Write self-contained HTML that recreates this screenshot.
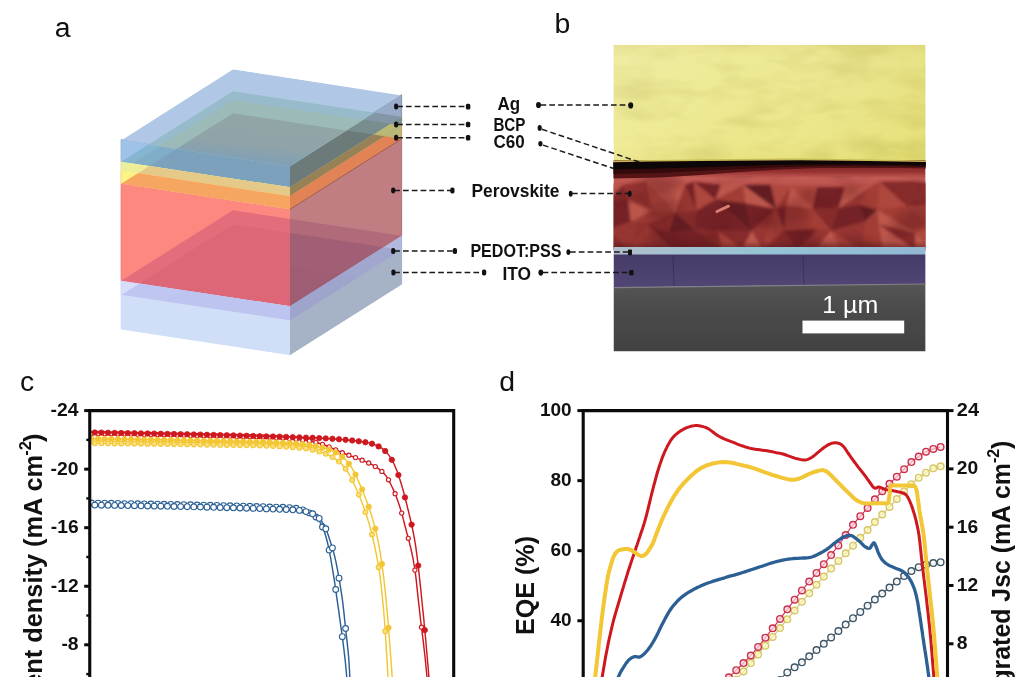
<!DOCTYPE html>
<html lang="en"><head><meta charset="utf-8"><title>Figure</title>
<style>
html,body{margin:0;padding:0;background:#fff}
body{width:1024px;height:677px;overflow:hidden;position:relative}
svg{display:block;position:absolute;left:0;top:0}
text{font-family:"Liberation Sans",Arial,Helvetica,sans-serif;fill:#111}
.b{font-weight:bold}
</style></head><body>
<svg width="1024" height="677" viewBox="0 0 1024 677">
<rect width="1024" height="677" fill="#fff"/>
<defs>
<clipPath id="cTop"><polygon points="121.2,140.4 290.0,166.2 401.6,95.5 233.0,69.3"/></clipPath>
<clipPath id="cF0"><polygon points="121.2,139.7 290.0,165.3 290.0,187.9 121.2,162.3"/></clipPath>
<clipPath id="cR0"><polygon points="290.0,165.3 401.6,94.8 401.6,117.4 290.0,187.9"/></clipPath>
<clipPath id="cF1"><polygon points="121.2,161.7 290.0,187.3 290.0,196.7 121.2,171.1"/></clipPath>
<clipPath id="cR1"><polygon points="290.0,187.3 401.6,116.8 401.6,126.2 290.0,196.7"/></clipPath>
<clipPath id="cF2"><polygon points="121.2,170.5 290.0,196.1 290.0,209.9 121.2,184.3"/></clipPath>
<clipPath id="cR2"><polygon points="290.0,196.1 401.6,125.6 401.6,139.4 290.0,209.9"/></clipPath>
<clipPath id="cF3"><polygon points="121.2,183.7 290.0,209.3 290.0,306.9 121.2,281.3"/></clipPath>
<clipPath id="cR3"><polygon points="290.0,209.3 401.6,138.8 401.6,236.4 290.0,306.9"/></clipPath>
<clipPath id="cF4"><polygon points="121.2,280.7 290.0,306.3 290.0,321.1 121.2,295.5"/></clipPath>
<clipPath id="cR4"><polygon points="290.0,306.3 401.6,235.8 401.6,250.6 290.0,321.1"/></clipPath>
<clipPath id="cF5"><polygon points="121.2,294.9 290.0,320.5 290.0,354.6 121.2,329.0"/></clipPath>
<clipPath id="cR5"><polygon points="290.0,320.5 401.6,250.0 401.6,284.1 290.0,354.6"/></clipPath>
<linearGradient id="gTopIn" gradientUnits="userSpaceOnUse" x1="236" y1="113" x2="230" y2="173"><stop offset="0" stop-color="rgb(147,166,166)"/><stop offset="0.5" stop-color="rgb(143,163,168)"/><stop offset="0.78" stop-color="rgb(128,160,182)"/><stop offset="1" stop-color="rgb(124,160,188)"/></linearGradient>
</defs>
<g id="panel-a-stack">
<polygon points="121.2,139.7 290.0,165.3 290.0,187.3 121.2,161.7" fill="rgb(123,161,189)" stroke="rgb(123,161,189)" stroke-width="1" stroke-linejoin="round"/>
<polygon points="290.0,165.3 401.6,94.8 401.6,116.8 290.0,187.3" fill="rgb(108,123,122)" stroke="rgb(108,123,122)" stroke-width="1" stroke-linejoin="round"/>
<polygon points="121.2,161.7 290.0,187.3 290.0,196.1 121.2,170.5" fill="rgb(229,201,136)" stroke="rgb(229,201,136)" stroke-width="1" stroke-linejoin="round"/>
<polygon points="290.0,187.3 401.6,116.8 401.6,125.6 290.0,196.1" fill="rgb(150,130,86)" stroke="rgb(150,130,86)" stroke-width="1" stroke-linejoin="round"/>
<polygon points="121.2,170.5 290.0,196.1 290.0,209.3 121.2,183.7" fill="rgb(240,158,98)" stroke="rgb(240,158,98)" stroke-width="1" stroke-linejoin="round"/>
<polygon points="290.0,196.1 401.6,125.6 401.6,138.8 290.0,209.3" fill="rgb(220,126,88)" stroke="rgb(220,126,88)" stroke-width="1" stroke-linejoin="round"/>
<polygon points="121.2,183.7 290.0,209.3 290.0,306.3 121.2,280.7" fill="rgb(221,103,119)" stroke="rgb(221,103,119)" stroke-width="1" stroke-linejoin="round"/>
<polygon points="290.0,209.3 401.6,138.8 401.6,235.8 290.0,306.3" fill="rgb(158,93,114)" stroke="rgb(158,93,114)" stroke-width="1" stroke-linejoin="round"/>
<polygon points="121.2,280.7 290.0,306.3 290.0,320.5 121.2,294.9" fill="rgb(190,196,240)" stroke="rgb(190,196,240)" stroke-width="1" stroke-linejoin="round"/>
<polygon points="290.0,306.3 401.6,235.8 401.6,250.0 290.0,320.5" fill="rgb(158,164,203)" stroke="rgb(158,164,203)" stroke-width="1" stroke-linejoin="round"/>
<polygon points="121.2,294.9 290.0,320.5 290.0,354.6 121.2,329.0" fill="rgb(208,222,248)" stroke="rgb(208,222,248)" stroke-width="1" stroke-linejoin="round"/>
<polygon points="290.0,320.5 401.6,250.0 401.6,284.1 290.0,354.6" fill="rgb(166,178,198)" stroke="rgb(166,178,198)" stroke-width="1" stroke-linejoin="round"/>
<g clip-path="url(#cF0)">
<rect x="100" y="60" width="320" height="300" fill="rgb(158,194,232)"/>
<polygon points="121.2,161.7 290.0,187.3 401.6,116.8 233.0,91.3" fill="rgb(133,181,207)"/>
<polygon points="121.2,170.5 290.0,196.1 401.6,125.6 233.0,100.1" fill="rgb(129,173,201)"/>
<polygon points="121.2,183.7 290.0,209.3 401.6,138.8 233.0,113.3" fill="rgb(123,161,189)"/>
</g>
<g clip-path="url(#cF1)">
<rect x="100" y="60" width="320" height="300" fill="rgb(232,240,162)"/>
<polygon points="121.2,170.5 290.0,196.1 401.6,125.6 233.0,100.1" fill="rgb(238,238,150)"/>
<polygon points="121.2,183.7 290.0,209.3 401.6,138.8 233.0,113.3" fill="rgb(229,201,136)"/>
</g>
<g clip-path="url(#cF2)">
<rect x="100" y="60" width="320" height="300" fill="rgb(250,245,132)"/>
<polygon points="121.2,183.7 290.0,209.3 401.6,138.8 233.0,113.3" fill="rgb(246,166,96)"/>
<polygon points="121.2,280.7 290.0,306.3 401.6,235.8 233.0,210.3" fill="rgb(240,158,98)"/>
</g>
<g clip-path="url(#cF3)">
<rect x="100" y="60" width="320" height="300" fill="rgb(253,136,128)"/>
<polygon points="121.2,280.7 290.0,306.3 401.6,235.8 233.0,210.3" fill="rgb(227,109,123)"/>
<polygon points="121.2,294.9 290.0,320.5 401.6,250.0 233.0,224.5" fill="rgb(221,103,119)"/>
<polygon points="121.2,329.0 290.0,354.6 401.6,284.1 233.0,258.6" fill="rgb(221,103,119)"/>
</g>
<g clip-path="url(#cF4)">
<rect x="100" y="60" width="320" height="300" fill="rgb(216,222,250)"/>
<polygon points="121.2,294.9 290.0,320.5 401.6,250.0 233.0,224.5" fill="rgb(192,198,242)"/>
<polygon points="121.2,329.0 290.0,354.6 401.6,284.1 233.0,258.6" fill="rgb(190,196,240)"/>
</g>
<g clip-path="url(#cF5)">
<rect x="100" y="60" width="320" height="300" fill="rgb(208,222,248)"/>
<polygon points="121.2,329.0 290.0,354.6 401.6,284.1 233.0,258.6" fill="rgb(208,222,248)"/>
</g>
<g clip-path="url(#cR0)">
<rect x="100" y="60" width="320" height="300" fill="rgb(152,172,202)"/>
<polygon points="121.2,161.7 290.0,187.3 401.6,116.8 233.0,91.3" fill="rgb(130,150,165)"/>
<polygon points="121.2,170.5 290.0,196.1 401.6,125.6 233.0,100.1" fill="rgb(120,141,142)"/>
<polygon points="121.2,183.7 290.0,209.3 401.6,138.8 233.0,113.3" fill="rgb(108,123,122)"/>
</g>
<g clip-path="url(#cR1)">
<rect x="100" y="60" width="320" height="300" fill="rgb(124,144,152)"/>
<polygon points="121.2,170.5 290.0,196.1 401.6,125.6 233.0,100.1" fill="rgb(186,185,118)"/>
<polygon points="121.2,183.7 290.0,209.3 401.6,138.8 233.0,113.3" fill="rgb(150,130,86)"/>
</g>
<g clip-path="url(#cR2)">
<rect x="100" y="60" width="320" height="300" fill="rgb(186,185,118)"/>
<polygon points="121.2,183.7 290.0,209.3 401.6,138.8 233.0,113.3" fill="rgb(226,131,86)"/>
<polygon points="121.2,280.7 290.0,306.3 401.6,235.8 233.0,210.3" fill="rgb(220,126,88)"/>
</g>
<g clip-path="url(#cR3)">
<rect x="100" y="60" width="320" height="300" fill="rgb(192,126,130)"/>
<polygon points="121.2,280.7 290.0,306.3 401.6,235.8 233.0,210.3" fill="rgb(176,106,122)"/>
<polygon points="121.2,294.9 290.0,320.5 401.6,250.0 233.0,224.5" fill="rgb(160,95,116)"/>
<polygon points="121.2,329.0 290.0,354.6 401.6,284.1 233.0,258.6" fill="rgb(158,93,114)"/>
</g>
<g clip-path="url(#cR4)">
<rect x="100" y="60" width="320" height="300" fill="rgb(178,184,222)"/>
<polygon points="121.2,294.9 290.0,320.5 401.6,250.0 233.0,224.5" fill="rgb(160,166,205)"/>
<polygon points="121.2,329.0 290.0,354.6 401.6,284.1 233.0,258.6" fill="rgb(158,164,203)"/>
</g>
<g clip-path="url(#cR5)">
<rect x="100" y="60" width="320" height="300" fill="rgb(166,178,198)"/>
<polygon points="121.2,329.0 290.0,354.6 401.6,284.1 233.0,258.6" fill="rgb(166,178,198)"/>
</g>
<line x1="290.0" y1="209.3" x2="401.6" y2="138.8" stroke="rgb(150,80,70)" stroke-width="0.8"/>
<g clip-path="url(#cTop)">
<polygon points="121.2,139.7 290.0,165.3 401.6,94.8 233.0,69.3" fill="rgb(176,199,229)"/>
<polygon points="121.2,161.7 290.0,187.3 401.6,116.8 233.0,91.3" fill="rgb(151,187,203)"/>
<polygon points="121.2,170.5 290.0,196.1 401.6,125.6 233.0,100.1" fill="rgb(155,186,184)"/>
<polygon points="121.2,183.7 290.0,209.3 401.6,138.8 233.0,113.3" fill="url(#gTopIn)"/>
</g>
</g>
<defs>
<clipPath id="cSem"><rect x="613.5" y="44.8" width="312.1" height="306.6"/></clipPath>
<filter id="fAg" x="0" y="0" width="1" height="1" color-interpolation-filters="sRGB">
<feTurbulence type="fractalNoise" baseFrequency="0.018 0.05" numOctaves="3" seed="11" result="n"/>
<feColorMatrix in="n" type="matrix" values="0 0 0 0 0.62  0 0 0 0 0.58  0 0 0 0 0.18  2.2 0 0 0 -0.95"/>
</filter>
<filter id="fPvkD" x="0" y="0" width="1" height="1" color-interpolation-filters="sRGB">
<feTurbulence type="fractalNoise" baseFrequency="0.022 0.034" numOctaves="2" seed="5" result="n"/>
<feColorMatrix in="n" type="matrix" values="0 0 0 0 0.36  0 0 0 0 0.08  0 0 0 0 0.10  3.6 0 0 0 -1.62"/>
<feGaussianBlur stdDeviation="1.0"/>
</filter>
<filter id="fPvkL" x="0" y="0" width="1" height="1" color-interpolation-filters="sRGB">
<feTurbulence type="fractalNoise" baseFrequency="0.024 0.04" numOctaves="2" seed="23" result="n"/>
<feColorMatrix in="n" type="matrix" values="0 0 0 0 0.80  0 0 0 0 0.38  0 0 0 0 0.35  0 3.2 0 0 -1.62"/>
<feGaussianBlur stdDeviation="1.0"/>
</filter>
<filter id="fBlur" x="-0.05" y="-0.2" width="1.1" height="1.4"><feGaussianBlur stdDeviation="1.6"/></filter>
<linearGradient id="gAg" x1="0" y1="0" x2="0" y2="1"><stop offset="0" stop-color="rgb(230,224,136)"/><stop offset="0.1" stop-color="rgb(236,232,146)"/><stop offset="0.8" stop-color="rgb(234,229,132)"/><stop offset="1" stop-color="rgb(226,219,112)"/></linearGradient>
<linearGradient id="gAgH" x1="0" y1="0" x2="1" y2="0"><stop offset="0" stop-color="rgb(250,248,200)" stop-opacity="0.28"/><stop offset="0.45" stop-color="rgb(250,248,200)" stop-opacity="0.08"/><stop offset="1" stop-color="rgb(214,204,84)" stop-opacity="0.22"/></linearGradient>
<linearGradient id="gPvk" x1="0" y1="0" x2="0" y2="1"><stop offset="0" stop-color="rgb(120,36,36)"/><stop offset="0.13" stop-color="rgb(150,50,48)"/><stop offset="0.2" stop-color="rgb(196,92,86)"/><stop offset="0.29" stop-color="rgb(186,80,74)"/><stop offset="0.4" stop-color="rgb(160,58,54)"/><stop offset="0.85" stop-color="rgb(152,54,50)"/><stop offset="1" stop-color="rgb(120,40,40)"/></linearGradient>
<linearGradient id="gPvkB" x1="0" y1="0" x2="0" y2="1"><stop offset="0" stop-color="rgb(90,26,28)" stop-opacity="0"/><stop offset="1" stop-color="rgb(90,26,28)" stop-opacity="0.6"/></linearGradient>
<linearGradient id="gPed" x1="0" y1="0" x2="1" y2="0"><stop offset="0" stop-color="rgb(176,190,204)"/><stop offset="0.45" stop-color="rgb(150,196,212)"/><stop offset="1" stop-color="rgb(146,184,212)"/></linearGradient>
<linearGradient id="gGlass" x1="0" y1="0" x2="0" y2="1"><stop offset="0" stop-color="rgb(86,86,86)"/><stop offset="0.3" stop-color="rgb(76,76,76)"/><stop offset="1" stop-color="rgb(66,66,66)"/></linearGradient>
<linearGradient id="gIto" x1="0" y1="0" x2="0" y2="1"><stop offset="0" stop-color="rgb(70,58,104)"/><stop offset="1" stop-color="rgb(82,70,116)"/></linearGradient>
</defs>
<g id="panel-b-sem" clip-path="url(#cSem)">
<rect x="613.5" y="44.8" width="312.1" height="125" fill="url(#gAg)"/>
<rect x="613.5" y="44.8" width="312.1" height="125" filter="url(#fAg)" opacity="0.24"/>
<rect x="613.5" y="44.8" width="312.1" height="125" fill="url(#gAgH)"/>
<rect x="613.5" y="160" width="312.1" height="90" fill="url(#gPvk)"/>
<g filter="url(#fBlur)"><polygon points="607.5,183.3 623.0,184.8 607.5,201.1" fill="rgb(188,86,76)"/><polygon points="623.0,184.8 628.2,199.8 607.5,201.1" fill="rgb(134,44,42)"/><polygon points="607.5,201.1 628.2,199.8 630.8,221.5" fill="rgb(116,36,38)"/><polygon points="607.5,201.1 630.8,221.5 607.5,230.1" fill="rgb(116,36,38)"/><polygon points="607.5,230.1 630.8,221.5 629.5,250.0" fill="rgb(150,52,48)"/><polygon points="607.5,230.1 629.5,250.0 607.5,250.0" fill="rgb(134,44,42)"/><polygon points="623.0,184.8 646.1,181.6 652.4,210.6" fill="rgb(150,52,48)"/><polygon points="623.0,184.8 652.4,210.6 628.2,199.8" fill="rgb(150,52,48)"/><polygon points="628.2,199.8 652.4,210.6 630.8,221.5" fill="rgb(188,86,76)"/><polygon points="652.4,210.6 647.0,224.1 630.8,221.5" fill="rgb(162,60,54)"/><polygon points="630.8,221.5 647.0,224.1 629.5,250.0" fill="rgb(150,52,48)"/><polygon points="647.0,224.1 656.1,250.0 629.5,250.0" fill="rgb(162,60,54)"/><polygon points="646.1,181.6 685.0,185.0 675.1,212.7" fill="rgb(188,86,76)"/><polygon points="646.1,181.6 675.1,212.7 652.4,210.6" fill="rgb(174,70,62)"/><polygon points="652.4,210.6 675.1,212.7 647.0,224.1" fill="rgb(162,60,54)"/><polygon points="675.1,212.7 668.8,233.0 647.0,224.1" fill="rgb(134,44,42)"/><polygon points="647.0,224.1 668.8,233.0 673.2,250.0" fill="rgb(116,36,38)"/><polygon points="647.0,224.1 673.2,250.0 656.1,250.0" fill="rgb(150,52,48)"/><polygon points="685.0,185.0 693.7,181.8 696.7,210.4" fill="rgb(116,36,38)"/><polygon points="685.0,185.0 696.7,210.4 675.1,212.7" fill="rgb(150,52,48)"/><polygon points="675.1,212.7 696.7,210.4 694.4,229.1" fill="rgb(134,44,42)"/><polygon points="675.1,212.7 694.4,229.1 668.8,233.0" fill="rgb(98,30,34)"/><polygon points="668.8,233.0 694.4,229.1 702.6,250.0" fill="rgb(116,36,38)"/><polygon points="668.8,233.0 702.6,250.0 673.2,250.0" fill="rgb(116,36,38)"/><polygon points="693.7,181.8 721.0,184.8 715.4,199.8" fill="rgb(116,36,38)"/><polygon points="693.7,181.8 715.4,199.8 696.7,210.4" fill="rgb(174,70,62)"/><polygon points="696.7,210.4 715.4,199.8 694.4,229.1" fill="rgb(116,36,38)"/><polygon points="715.4,199.8 718.0,230.5 694.4,229.1" fill="rgb(116,36,38)"/><polygon points="694.4,229.1 718.0,230.5 721.9,250.0" fill="rgb(134,44,42)"/><polygon points="694.4,229.1 721.9,250.0 702.6,250.0" fill="rgb(116,36,38)"/><polygon points="721.0,184.8 743.1,185.1 715.4,199.8" fill="rgb(188,86,76)"/><polygon points="743.1,185.1 745.6,203.2 715.4,199.8" fill="rgb(162,60,54)"/><polygon points="715.4,199.8 745.6,203.2 751.7,230.8" fill="rgb(98,30,34)"/><polygon points="715.4,199.8 751.7,230.8 718.0,230.5" fill="rgb(116,36,38)"/><polygon points="718.0,230.5 751.7,230.8 741.8,250.0" fill="rgb(134,44,42)"/><polygon points="718.0,230.5 741.8,250.0 721.9,250.0" fill="rgb(174,70,62)"/><polygon points="743.1,185.1 770.9,184.7 776.3,209.2" fill="rgb(98,30,34)"/><polygon points="743.1,185.1 776.3,209.2 745.6,203.2" fill="rgb(188,86,76)"/><polygon points="745.6,203.2 776.3,209.2 751.7,230.8" fill="rgb(116,36,38)"/><polygon points="776.3,209.2 765.7,234.7 751.7,230.8" fill="rgb(150,52,48)"/><polygon points="751.7,230.8 765.7,234.7 762.7,250.0" fill="rgb(150,52,48)"/><polygon points="751.7,230.8 762.7,250.0 741.8,250.0" fill="rgb(188,86,76)"/><polygon points="770.9,184.7 791.2,186.3 776.3,209.2" fill="rgb(174,70,62)"/><polygon points="791.2,186.3 786.4,205.8 776.3,209.2" fill="rgb(150,52,48)"/><polygon points="776.3,209.2 786.4,205.8 784.4,230.4" fill="rgb(116,36,38)"/><polygon points="776.3,209.2 784.4,230.4 765.7,234.7" fill="rgb(162,60,54)"/><polygon points="765.7,234.7 784.4,230.4 762.7,250.0" fill="rgb(162,60,54)"/><polygon points="784.4,230.4 797.5,250.0 762.7,250.0" fill="rgb(134,44,42)"/><polygon points="791.2,186.3 817.2,187.1 812.5,208.7" fill="rgb(174,70,62)"/><polygon points="791.2,186.3 812.5,208.7 786.4,205.8" fill="rgb(188,86,76)"/><polygon points="786.4,205.8 812.5,208.7 784.4,230.4" fill="rgb(162,60,54)"/><polygon points="812.5,208.7 817.5,229.1 784.4,230.4" fill="rgb(162,60,54)"/><polygon points="784.4,230.4 817.5,229.1 797.5,250.0" fill="rgb(116,36,38)"/><polygon points="817.5,229.1 815.1,250.0 797.5,250.0" fill="rgb(150,52,48)"/><polygon points="817.2,187.1 845.1,187.6 838.5,208.3" fill="rgb(116,36,38)"/><polygon points="817.2,187.1 838.5,208.3 812.5,208.7" fill="rgb(116,36,38)"/><polygon points="812.5,208.7 838.5,208.3 831.1,230.8" fill="rgb(134,44,42)"/><polygon points="812.5,208.7 831.1,230.8 817.5,229.1" fill="rgb(162,60,54)"/><polygon points="817.5,229.1 831.1,230.8 815.1,250.0" fill="rgb(150,52,48)"/><polygon points="831.1,230.8 841.6,250.0 815.1,250.0" fill="rgb(188,86,76)"/><polygon points="845.1,187.6 871.0,186.8 838.5,208.3" fill="rgb(188,86,76)"/><polygon points="871.0,186.8 858.3,204.4 838.5,208.3" fill="rgb(150,52,48)"/><polygon points="838.5,208.3 858.3,204.4 865.2,221.3" fill="rgb(116,36,38)"/><polygon points="838.5,208.3 865.2,221.3 831.1,230.8" fill="rgb(116,36,38)"/><polygon points="831.1,230.8 865.2,221.3 861.5,250.0" fill="rgb(150,52,48)"/><polygon points="831.1,230.8 861.5,250.0 841.6,250.0" fill="rgb(174,70,62)"/><polygon points="871.0,186.8 879.3,181.8 858.3,204.4" fill="rgb(162,60,54)"/><polygon points="879.3,181.8 877.4,209.8 858.3,204.4" fill="rgb(162,60,54)"/><polygon points="858.3,204.4 877.4,209.8 865.2,221.3" fill="rgb(98,30,34)"/><polygon points="877.4,209.8 878.6,224.5 865.2,221.3" fill="rgb(162,60,54)"/><polygon points="865.2,221.3 878.6,224.5 861.5,250.0" fill="rgb(162,60,54)"/><polygon points="878.6,224.5 883.3,250.0 861.5,250.0" fill="rgb(162,60,54)"/><polygon points="879.3,181.8 915.1,181.6 907.5,206.7" fill="rgb(134,44,42)"/><polygon points="879.3,181.8 907.5,206.7 877.4,209.8" fill="rgb(174,70,62)"/><polygon points="877.4,209.8 907.5,206.7 915.4,232.5" fill="rgb(162,60,54)"/><polygon points="877.4,209.8 915.4,232.5 878.6,224.5" fill="rgb(188,86,76)"/><polygon points="878.6,224.5 915.4,232.5 915.0,250.0" fill="rgb(134,44,42)"/><polygon points="878.6,224.5 915.0,250.0 883.3,250.0" fill="rgb(188,86,76)"/><polygon points="915.1,181.6 931.6,182.9 907.5,206.7" fill="rgb(134,44,42)"/><polygon points="931.6,182.9 931.6,204.8 907.5,206.7" fill="rgb(134,44,42)"/><polygon points="907.5,206.7 931.6,204.8 931.6,226.0" fill="rgb(174,70,62)"/><polygon points="907.5,206.7 931.6,226.0 915.4,232.5" fill="rgb(162,60,54)"/><polygon points="915.4,232.5 931.6,226.0 931.6,250.0" fill="rgb(174,70,62)"/><polygon points="915.4,232.5 931.6,250.0 915.0,250.0" fill="rgb(188,86,76)"/></g>
<rect x="613.5" y="176" width="312.1" height="72" filter="url(#fPvkD)" opacity="0.35"/>
<rect x="613.5" y="241" width="312.1" height="7" fill="url(#gPvkB)"/>
<line x1="717" y1="211.5" x2="728.5" y2="206.2" stroke="rgb(218,124,112)" stroke-width="3" stroke-linecap="round"/>
<polygon points="613.0,162.2 650.0,161.6 700.0,161.0 760.0,160.4 800.0,160.2 850.0,160.8 900.0,161.6 926.0,162.0 926.0,168.5 900.0,168.0 860.0,168.0 820.0,168.0 780.0,169.5 740.0,172.0 700.0,175.0 660.0,177.5 613.0,178.5" fill="rgb(84,20,22)"/>
<polygon points="613.0,162.2 650.0,161.6 700.0,161.0 760.0,160.4 800.0,160.2 850.0,160.8 900.0,161.6 926.0,162.0 926.0,167.1 900.0,166.5 860.0,166.3 820.0,166.2 780.0,167.2 740.0,169.0 700.0,171.1 660.0,173.1 613.0,174.1" fill="rgb(52,10,12)"/>
<polygon points="613.0,162.2 650.0,161.6 700.0,161.0 760.0,160.4 800.0,160.2 850.0,160.8 900.0,161.6 926.0,162.0 926.0,165.6 900.0,165.0 860.0,164.6 820.0,164.4 780.0,164.8 740.0,166.0 700.0,167.2 660.0,168.6 613.0,169.6" fill="rgb(12,6,6)"/>
<polyline points="613.0,161.4 650.0,160.8 700.0,160.2 760.0,159.6 800.0,159.4 850.0,160.0 900.0,160.8 926.0,161.2" fill="none" stroke="rgb(196,186,84)" stroke-width="1.6"/>
<rect x="613.5" y="247.0" width="312.1" height="8" fill="url(#gPed)"/>
<polygon points="613.5,254.6 925.6,254.6 925.6,284.0 613.5,287.6" fill="url(#gIto)"/>
<line x1="673" y1="255" x2="674" y2="286" stroke="rgb(52,40,88)" stroke-width="0.7"/>
<line x1="803" y1="255" x2="804" y2="286" stroke="rgb(52,40,88)" stroke-width="0.7"/>
<polygon points="613.5,287.4 925.6,283.8 925.6,351.4 613.5,351.4" fill="url(#gGlass)"/>
<line x1="613.5" y1="287.6" x2="925.6" y2="284.0" stroke="rgb(128,128,136)" stroke-width="1.1"/>
<rect x="802.5" y="320.6" width="101.7" height="12.8" fill="#fff"/>
<text x="822.2" y="312.9" font-size="23.4" textLength="56" lengthAdjust="spacingAndGlyphs" style="fill:#fff">1 µm</text>
</g>
<g id="labels" class="b" font-size="17.6" text-anchor="start">
<text x="497.6" y="110.2" textLength="22.6" lengthAdjust="spacingAndGlyphs">Ag</text>
<text x="493.4" y="130.6" textLength="32.0" lengthAdjust="spacingAndGlyphs">BCP</text>
<text x="493.4" y="147.8" textLength="31.2" lengthAdjust="spacingAndGlyphs">C60</text>
<text x="471.4" y="197.2" textLength="88.0" lengthAdjust="spacingAndGlyphs">Perovskite</text>
<text x="470.4" y="256.7" textLength="91.0" lengthAdjust="spacingAndGlyphs">PEDOT:PSS</text>
<text x="502.4" y="280.0" textLength="28.6" lengthAdjust="spacingAndGlyphs">ITO</text>
</g>
<g id="leaders" stroke="#1a1a1a" stroke-width="1.5" stroke-dasharray="5.7 3.1" fill="none">
<line x1="397.1" y1="106.6" x2="468.0" y2="106.6"/>
<line x1="397.1" y1="124.5" x2="468.0" y2="124.5"/>
<line x1="397.1" y1="137.8" x2="468.0" y2="137.8"/>
<line x1="394.2" y1="190.4" x2="452.0" y2="190.4"/>
<line x1="394.2" y1="251.0" x2="455.0" y2="251.0"/>
<line x1="394.2" y1="272.5" x2="484.0" y2="272.5"/>
<line x1="540.5" y1="105.0" x2="629.0" y2="105.0"/>
<line x1="542.0" y1="129.3" x2="640.0" y2="162.3"/>
<line x1="543.0" y1="145.1" x2="614.5" y2="168.8"/>
<line x1="572.0" y1="193.6" x2="629.0" y2="193.6"/>
<line x1="570.0" y1="252.1" x2="629.5" y2="252.1"/>
<line x1="542.6" y1="272.6" x2="630.5" y2="272.6"/>
</g>
<g id="dots" fill="#111">
<rect x="394.1" y="103.6" width="4" height="6.0" rx="1.8"/>
<rect x="394.1" y="121.5" width="4" height="6.0" rx="1.8"/>
<rect x="394.1" y="134.8" width="4" height="6.0" rx="1.8"/>
<rect x="391.2" y="187.4" width="4" height="6.0" rx="1.8"/>
<rect x="391.2" y="248.0" width="4" height="6.0" rx="1.8"/>
<rect x="391.4" y="269.5" width="4" height="6.0" rx="1.8"/>
<rect x="465.9" y="103.8" width="4.4" height="5.6" rx="1.5"/>
<rect x="465.9" y="121.7" width="4.4" height="5.6" rx="1.5"/>
<rect x="465.9" y="135.0" width="4.4" height="5.6" rx="1.5"/>
<rect x="450.3" y="187.4" width="4.2" height="6.0" rx="1.7"/>
<rect x="452.8" y="248.0" width="4.2" height="6.0" rx="1.7"/>
<rect x="482.0" y="269.5" width="4.2" height="6.0" rx="1.7"/>
<ellipse cx="538.5" cy="105.0" rx="2.5" ry="3.1"/>
<ellipse cx="539.7" cy="127.9" rx="2.1" ry="2.9"/>
<ellipse cx="540.4" cy="143.8" rx="2.1" ry="2.7"/>
<ellipse cx="570.7" cy="193.7" rx="1.9" ry="3.0"/>
<ellipse cx="568.4" cy="252.1" rx="2.0" ry="2.9"/>
<ellipse cx="540.8" cy="272.6" rx="2.4" ry="3.1"/>
</g>
<g fill="#111">
<ellipse cx="630.7" cy="105.4" rx="2.5" ry="3.1"/>
<ellipse cx="629.7" cy="193.7" rx="2.0" ry="3.0"/>
<rect x="628.0" y="249.4" width="4.0" height="5.8" rx="0.8"/>
<rect x="629.2" y="269.9" width="4.4" height="5.4" rx="0.8"/>
</g>
<defs><clipPath id="cC"><rect x="89.8" y="410.6" width="363.9" height="300"/></clipPath></defs>
<g id="panel-c">
<g clip-path="url(#cC)">
<path d="M89.7 503.0 L90.8 503.0 L94.0 503.1 L98.8 503.1 L104.9 503.2 L112.0 503.4 L119.8 503.5 L127.8 503.6 L135.7 503.7 L143.2 503.9 L150.0 504.0 L156.8 504.1 L163.9 504.3 L171.0 504.4 L178.2 504.6 L185.4 504.7 L192.6 504.9 L199.7 505.0 L206.7 505.2 L213.5 505.3 L220.0 505.5 L225.4 505.6 L230.8 505.8 L236.1 505.9 L241.3 506.0 L246.4 506.2 L251.4 506.3 L256.3 506.5 L261.1 506.6 L265.6 506.8 L270.0 507.0 L273.2 507.1 L276.3 507.2 L279.4 507.3 L282.4 507.3 L285.3 507.4 L288.1 507.5 L290.8 507.7 L293.3 507.9 L295.8 508.2 L298.0 508.6 L299.4 508.9 L300.7 509.3 L302.0 509.7 L303.1 510.1 L304.3 510.5 L305.4 511.0 L306.4 511.5 L307.5 512.0 L308.5 512.5 L309.5 513.0 L310.3 513.4 L311.2 513.9 L312.0 514.3 L312.8 514.8 L313.5 515.2 L314.3 515.7 L315.0 516.2 L315.7 516.8 L316.4 517.4 L317.0 518.0 L317.7 518.7 L318.3 519.5 L318.9 520.4 L319.5 521.2 L320.0 522.1 L320.5 523.1 L321.1 524.0 L321.5 525.0 L322.0 526.0 L322.5 527.0 L323.0 528.2 L323.5 529.3 L324.0 530.5 L324.4 531.7 L324.8 533.0 L325.2 534.3 L325.6 535.6 L326.0 537.0 L326.4 538.5 L326.8 540.0 L327.4 542.3 L328.0 544.8 L328.5 547.4 L329.1 550.2 L329.7 553.0 L330.2 555.9 L330.8 558.9 L331.3 562.0 L331.8 565.1 L332.4 568.3 L333.1 572.6 L333.8 577.1 L334.6 581.9 L335.3 586.8 L336.0 591.8 L336.7 596.8 L337.4 601.7 L338.1 606.6 L338.8 611.3 L339.4 615.8 L339.9 619.5 L340.4 623.1 L340.9 626.6 L341.4 630.1 L341.9 633.5 L342.3 636.9 L342.8 640.2 L343.2 643.5 L343.6 646.8 L344.0 650.0 L344.3 652.9 L344.7 655.8 L345.0 658.6 L345.3 661.5 L345.6 664.3 L345.8 667.1 L346.1 669.7 L346.3 672.3 L346.6 674.7 L346.8 677.0 L347.0 678.6 L347.1 680.3 L347.3 682.1 L347.4 683.8 L347.6 685.4 L347.7 686.9 L347.8 688.2 L347.9 689.1 L348.0 689.8 L348.0 690.0" fill="none" stroke="rgb(44,96,148)" stroke-width="1.45" stroke-linejoin="round"/>
<g fill="#fff" stroke="rgb(44,96,148)" stroke-width="1.1"><circle cx="91.5" cy="503.0" r="2.9"/><circle cx="98.1" cy="503.1" r="2.9"/><circle cx="104.7" cy="503.2" r="2.9"/><circle cx="111.3" cy="503.3" r="2.9"/><circle cx="117.9" cy="503.4" r="2.9"/><circle cx="124.5" cy="503.6" r="2.9"/><circle cx="131.1" cy="503.7" r="2.9"/><circle cx="137.7" cy="503.8" r="2.9"/><circle cx="144.3" cy="503.9" r="2.9"/><circle cx="150.9" cy="504.0" r="2.9"/><circle cx="157.5" cy="504.1" r="2.9"/><circle cx="164.1" cy="504.3" r="2.9"/><circle cx="170.7" cy="504.4" r="2.9"/><circle cx="177.3" cy="504.5" r="2.9"/><circle cx="183.9" cy="504.7" r="2.9"/><circle cx="190.5" cy="504.8" r="2.9"/><circle cx="197.1" cy="505.0" r="2.9"/><circle cx="203.7" cy="505.1" r="2.9"/><circle cx="210.3" cy="505.3" r="2.9"/><circle cx="216.9" cy="505.4" r="2.9"/><circle cx="223.5" cy="505.6" r="2.9"/><circle cx="230.1" cy="505.8" r="2.9"/><circle cx="236.7" cy="505.9" r="2.9"/><circle cx="243.3" cy="506.1" r="2.9"/><circle cx="249.9" cy="506.3" r="2.9"/><circle cx="256.5" cy="506.5" r="2.9"/><circle cx="263.1" cy="506.7" r="2.9"/><circle cx="269.7" cy="507.0" r="2.9"/><circle cx="276.3" cy="507.2" r="2.9"/><circle cx="282.9" cy="507.3" r="2.9"/><circle cx="289.5" cy="507.6" r="2.9"/><circle cx="296.1" cy="508.3" r="2.9"/><circle cx="302.7" cy="509.9" r="2.9"/><circle cx="309.3" cy="512.9" r="2.9"/><circle cx="315.9" cy="517.0" r="2.9"/><circle cx="322.5" cy="527.0" r="2.9"/><circle cx="329.1" cy="550.1" r="2.9"/><circle cx="335.7" cy="589.5" r="2.9"/><circle cx="342.3" cy="636.7" r="2.9"/></g>
<path d="M89.7 505.0 L90.8 505.0 L94.0 505.1 L98.8 505.1 L104.9 505.2 L112.0 505.4 L119.8 505.5 L127.8 505.6 L135.7 505.7 L143.2 505.9 L150.0 506.0 L156.8 506.1 L163.9 506.3 L171.0 506.4 L178.2 506.6 L185.4 506.7 L192.6 506.9 L199.7 507.0 L206.7 507.2 L213.5 507.3 L220.0 507.5 L225.4 507.6 L230.7 507.8 L236.0 507.9 L241.2 508.1 L246.3 508.2 L251.3 508.3 L256.1 508.5 L260.9 508.7 L265.5 508.8 L270.0 509.0 L273.5 509.1 L276.9 509.2 L280.3 509.3 L283.7 509.4 L286.9 509.5 L290.1 509.6 L293.1 509.8 L295.9 510.0 L298.6 510.3 L301.0 510.6 L302.4 510.8 L303.7 511.1 L305.0 511.3 L306.2 511.6 L307.3 511.9 L308.4 512.2 L309.5 512.6 L310.5 512.9 L311.5 513.3 L312.5 513.8 L313.4 514.2 L314.2 514.7 L315.0 515.2 L315.8 515.6 L316.5 516.2 L317.3 516.7 L318.0 517.3 L318.7 517.9 L319.4 518.5 L320.0 519.2 L320.7 520.0 L321.3 520.8 L321.9 521.6 L322.5 522.5 L323.0 523.4 L323.5 524.3 L324.0 525.3 L324.5 526.2 L325.0 527.2 L325.5 528.2 L326.0 529.3 L326.5 530.4 L326.9 531.5 L327.4 532.7 L327.8 533.9 L328.2 535.1 L328.6 536.3 L329.0 537.5 L329.4 538.7 L329.8 540.0 L330.3 541.4 L330.7 542.8 L331.2 544.2 L331.7 545.6 L332.1 547.0 L332.6 548.5 L333.0 550.0 L333.5 551.7 L333.9 553.4 L334.4 555.2 L335.1 558.3 L335.9 561.7 L336.6 565.4 L337.4 569.2 L338.1 573.2 L338.8 577.3 L339.6 581.4 L340.2 585.5 L340.9 589.6 L341.5 593.6 L342.1 597.7 L342.7 602.0 L343.2 606.4 L343.7 610.7 L344.2 615.1 L344.6 619.4 L345.1 623.6 L345.5 627.6 L345.9 631.4 L346.3 635.0 L346.6 637.3 L346.8 639.5 L347.1 641.6 L347.3 643.6 L347.5 645.6 L347.7 647.5 L347.9 649.4 L348.1 651.3 L348.3 653.3 L348.5 655.3 L348.7 657.5 L348.8 659.7 L349.0 661.9 L349.1 664.2 L349.2 666.4 L349.4 668.7 L349.5 670.9 L349.6 673.0 L349.7 675.1 L349.8 677.0 L349.9 678.6 L350.0 680.2 L350.1 682.0 L350.2 683.7 L350.3 685.3 L350.3 686.8 L350.4 688.1 L350.5 689.1 L350.5 689.8 L350.5 690.0" fill="none" stroke="rgb(44,96,148)" stroke-width="1.45" stroke-linejoin="round"/>
<g fill="#fff" stroke="rgb(44,96,148)" stroke-width="1.1"><circle cx="94.8" cy="505.1" r="2.9"/><circle cx="101.4" cy="505.2" r="2.9"/><circle cx="108.0" cy="505.3" r="2.9"/><circle cx="114.6" cy="505.4" r="2.9"/><circle cx="121.2" cy="505.5" r="2.9"/><circle cx="127.8" cy="505.6" r="2.9"/><circle cx="134.4" cy="505.7" r="2.9"/><circle cx="141.0" cy="505.8" r="2.9"/><circle cx="147.6" cy="506.0" r="2.9"/><circle cx="154.2" cy="506.1" r="2.9"/><circle cx="160.8" cy="506.2" r="2.9"/><circle cx="167.4" cy="506.3" r="2.9"/><circle cx="174.0" cy="506.5" r="2.9"/><circle cx="180.6" cy="506.6" r="2.9"/><circle cx="187.2" cy="506.7" r="2.9"/><circle cx="193.8" cy="506.9" r="2.9"/><circle cx="200.4" cy="507.0" r="2.9"/><circle cx="207.0" cy="507.2" r="2.9"/><circle cx="213.6" cy="507.3" r="2.9"/><circle cx="220.2" cy="507.5" r="2.9"/><circle cx="226.8" cy="507.7" r="2.9"/><circle cx="233.4" cy="507.8" r="2.9"/><circle cx="240.0" cy="508.0" r="2.9"/><circle cx="246.6" cy="508.2" r="2.9"/><circle cx="253.2" cy="508.4" r="2.9"/><circle cx="259.8" cy="508.6" r="2.9"/><circle cx="266.4" cy="508.9" r="2.9"/><circle cx="273.0" cy="509.1" r="2.9"/><circle cx="279.6" cy="509.3" r="2.9"/><circle cx="286.2" cy="509.5" r="2.9"/><circle cx="292.8" cy="509.8" r="2.9"/><circle cx="299.4" cy="510.4" r="2.9"/><circle cx="306.0" cy="511.6" r="2.9"/><circle cx="312.6" cy="513.8" r="2.9"/><circle cx="319.2" cy="518.4" r="2.9"/><circle cx="325.8" cy="528.8" r="2.9"/><circle cx="332.4" cy="547.9" r="2.9"/><circle cx="339.0" cy="578.2" r="2.9"/><circle cx="345.6" cy="628.5" r="2.9"/></g>
<path d="M89.7 433.4 L91.8 433.4 L97.8 433.5 L106.9 433.7 L118.5 433.9 L131.8 434.2 L146.1 434.4 L160.8 434.7 L175.1 435.0 L188.4 435.3 L200.0 435.6 L209.6 435.8 L219.4 436.0 L229.2 436.2 L239.0 436.4 L248.6 436.6 L257.9 436.9 L266.9 437.2 L275.3 437.5 L283.0 438.0 L290.0 438.6 L293.7 439.0 L297.1 439.3 L300.3 439.7 L303.4 440.1 L306.3 440.5 L309.1 441.0 L311.8 441.5 L314.5 442.1 L317.2 442.8 L320.0 443.5 L322.6 444.3 L325.1 445.2 L327.7 446.2 L330.2 447.3 L332.6 448.3 L335.0 449.4 L337.4 450.5 L339.7 451.6 L341.9 452.5 L344.0 453.4 L345.5 454.0 L347.0 454.6 L348.5 455.1 L349.8 455.6 L351.2 456.1 L352.6 456.5 L353.9 457.0 L355.2 457.5 L356.6 458.0 L358.0 458.6 L359.5 459.2 L361.0 459.8 L362.6 460.4 L364.1 461.0 L365.7 461.6 L367.2 462.3 L368.7 463.0 L370.2 463.7 L371.6 464.4 L373.0 465.2 L374.3 466.0 L375.5 466.7 L376.8 467.5 L378.0 468.3 L379.2 469.2 L380.3 470.1 L381.4 471.0 L382.5 471.9 L383.5 472.9 L384.5 474.0 L385.4 475.1 L386.3 476.3 L387.2 477.6 L387.9 478.8 L388.7 480.2 L389.4 481.5 L390.1 482.9 L390.8 484.3 L391.5 485.7 L392.2 487.2 L393.0 488.9 L393.8 490.6 L394.5 492.3 L395.3 494.1 L396.0 495.9 L396.7 497.8 L397.4 499.7 L398.1 501.6 L398.7 503.5 L399.4 505.5 L400.1 507.8 L400.9 510.3 L401.6 512.8 L402.3 515.3 L403.0 517.9 L403.6 520.4 L404.3 523.0 L404.9 525.5 L405.6 528.0 L406.2 530.4 L406.7 532.5 L407.3 534.5 L407.8 536.5 L408.3 538.4 L408.9 540.4 L409.4 542.3 L409.8 544.2 L410.3 546.2 L410.8 548.1 L411.2 550.0 L411.6 551.8 L412.0 553.5 L412.3 555.2 L412.7 556.8 L413.0 558.5 L413.3 560.2 L413.6 562.0 L413.9 563.9 L414.3 565.9 L414.6 568.0 L415.1 571.7 L415.7 575.7 L416.2 580.0 L416.7 584.6 L417.2 589.3 L417.7 594.1 L418.2 599.0 L418.8 603.8 L419.3 608.5 L419.8 613.0 L420.3 617.3 L420.8 621.7 L421.4 626.1 L421.9 630.5 L422.4 634.9 L423.0 639.2 L423.5 643.4 L423.9 647.5 L424.4 651.4 L424.8 655.0 L425.1 657.5 L425.3 659.9 L425.6 662.3 L425.8 664.6 L426.0 666.8 L426.2 669.0 L426.4 671.0 L426.6 673.1 L426.8 675.1 L427.0 677.0 L427.2 678.6 L427.3 680.2 L427.5 682.0 L427.7 683.7 L427.8 685.3 L428.0 686.8 L428.1 688.1 L428.2 689.1 L428.3 689.8 L428.3 690.0" fill="none" stroke="rgb(206,24,32)" stroke-width="1.45" stroke-linejoin="round"/>
<g fill="rgb(255,244,244)" stroke="rgb(206,24,32)" stroke-width="1.1"><circle cx="91.5" cy="433.4" r="2.1"/><circle cx="98.1" cy="433.5" r="2.1"/><circle cx="104.7" cy="433.7" r="2.1"/><circle cx="111.3" cy="433.8" r="2.1"/><circle cx="117.9" cy="433.9" r="2.1"/><circle cx="124.5" cy="434.0" r="2.1"/><circle cx="131.1" cy="434.1" r="2.1"/><circle cx="137.7" cy="434.3" r="2.1"/><circle cx="144.3" cy="434.4" r="2.1"/><circle cx="150.9" cy="434.5" r="2.1"/><circle cx="157.5" cy="434.6" r="2.1"/><circle cx="164.1" cy="434.8" r="2.1"/><circle cx="170.7" cy="434.9" r="2.1"/><circle cx="177.3" cy="435.1" r="2.1"/><circle cx="183.9" cy="435.2" r="2.1"/><circle cx="190.5" cy="435.4" r="2.1"/><circle cx="197.1" cy="435.5" r="2.1"/><circle cx="203.7" cy="435.7" r="2.1"/><circle cx="210.3" cy="435.8" r="2.1"/><circle cx="216.9" cy="436.0" r="2.1"/><circle cx="223.5" cy="436.1" r="2.1"/><circle cx="230.1" cy="436.2" r="2.1"/><circle cx="236.7" cy="436.4" r="2.1"/><circle cx="243.3" cy="436.5" r="2.1"/><circle cx="249.9" cy="436.6" r="2.1"/><circle cx="256.5" cy="436.8" r="2.1"/><circle cx="263.1" cy="437.0" r="2.1"/><circle cx="269.7" cy="437.3" r="2.1"/><circle cx="276.3" cy="437.6" r="2.1"/><circle cx="282.9" cy="438.0" r="2.1"/><circle cx="289.5" cy="438.6" r="2.1"/><circle cx="296.1" cy="439.2" r="2.1"/><circle cx="302.7" cy="440.0" r="2.1"/><circle cx="309.3" cy="441.0" r="2.1"/><circle cx="315.9" cy="442.4" r="2.1"/><circle cx="322.5" cy="444.3" r="2.1"/><circle cx="329.1" cy="446.8" r="2.1"/><circle cx="335.7" cy="449.8" r="2.1"/><circle cx="342.3" cy="452.7" r="2.1"/><circle cx="348.9" cy="455.2" r="2.1"/><circle cx="355.5" cy="457.6" r="2.1"/><circle cx="362.1" cy="460.2" r="2.1"/><circle cx="368.7" cy="463.0" r="2.1"/><circle cx="375.3" cy="466.6" r="2.1"/><circle cx="381.9" cy="471.4" r="2.1"/><circle cx="388.5" cy="479.8" r="2.1"/><circle cx="395.1" cy="493.7" r="2.1"/><circle cx="401.7" cy="513.1" r="2.1"/><circle cx="408.3" cy="538.3" r="2.1"/><circle cx="414.9" cy="570.1" r="2.1"/><circle cx="421.5" cy="627.2" r="2.1"/><circle cx="428.1" cy="688.0" r="2.1"/></g>
<path d="M89.7 443.2 L91.9 443.2 L97.9 443.3 L107.1 443.4 L118.8 443.5 L132.2 443.7 L146.6 443.9 L161.3 444.0 L175.5 444.2 L188.7 444.4 L200.0 444.6 L208.7 444.7 L217.4 444.9 L226.1 445.0 L234.7 445.1 L243.1 445.2 L251.2 445.4 L259.1 445.6 L266.5 445.8 L273.5 446.1 L280.0 446.4 L283.8 446.6 L287.5 446.9 L291.0 447.1 L294.4 447.3 L297.6 447.6 L300.7 447.9 L303.7 448.2 L306.6 448.6 L309.3 449.1 L312.0 449.6 L313.9 450.0 L315.6 450.4 L317.3 450.9 L319.0 451.4 L320.6 451.9 L322.1 452.4 L323.6 452.9 L325.1 453.5 L326.6 454.1 L328.0 454.8 L329.3 455.4 L330.5 456.0 L331.8 456.7 L332.9 457.4 L334.1 458.1 L335.3 458.8 L336.4 459.6 L337.4 460.3 L338.5 461.2 L339.5 462.0 L340.4 462.8 L341.3 463.7 L342.2 464.6 L343.0 465.5 L343.8 466.4 L344.5 467.4 L345.3 468.4 L346.0 469.4 L346.8 470.4 L347.5 471.5 L348.3 472.8 L349.1 474.1 L349.9 475.5 L350.7 476.9 L351.4 478.4 L352.1 479.9 L352.9 481.4 L353.6 482.9 L354.3 484.5 L355.0 486.0 L355.8 487.7 L356.6 489.4 L357.3 491.2 L358.1 493.0 L358.9 494.8 L359.6 496.6 L360.3 498.4 L361.1 500.3 L361.8 502.1 L362.5 504.0 L363.2 506.0 L364.0 508.1 L364.7 510.1 L365.5 512.2 L366.2 514.3 L366.9 516.4 L367.6 518.6 L368.2 520.7 L368.9 522.8 L369.5 525.0 L370.1 527.2 L370.7 529.5 L371.3 531.7 L371.9 534.0 L372.4 536.3 L373.0 538.6 L373.5 540.9 L374.0 543.3 L374.5 545.6 L375.0 548.0 L375.5 550.6 L376.1 553.2 L376.6 555.8 L377.1 558.5 L377.6 561.1 L378.0 563.8 L378.5 566.6 L378.9 569.3 L379.4 572.1 L379.8 575.0 L380.3 578.3 L380.7 581.7 L381.1 585.1 L381.5 588.5 L381.9 592.1 L382.2 595.6 L382.6 599.2 L382.9 602.8 L383.3 606.4 L383.6 610.0 L383.9 613.9 L384.3 618.0 L384.6 622.0 L384.9 626.2 L385.1 630.3 L385.4 634.4 L385.7 638.5 L385.9 642.5 L386.2 646.3 L386.4 650.0 L386.6 653.0 L386.8 655.9 L386.9 658.8 L387.1 661.6 L387.3 664.4 L387.4 667.2 L387.6 669.8 L387.7 672.3 L387.9 674.7 L388.0 677.0 L388.1 678.6 L388.2 680.3 L388.4 682.1 L388.5 683.8 L388.6 685.4 L388.7 686.9 L388.8 688.2 L388.9 689.1 L389.0 689.8 L389.0 690.0" fill="none" stroke="rgb(242,198,52)" stroke-width="1.45" stroke-linejoin="round"/>
<g fill="rgb(250,222,120)" stroke="rgb(242,198,52)" stroke-width="1.1"><circle cx="94.8" cy="443.3" r="2.4"/><circle cx="101.4" cy="443.3" r="2.4"/><circle cx="108.0" cy="443.4" r="2.4"/><circle cx="114.6" cy="443.5" r="2.4"/><circle cx="121.2" cy="443.5" r="2.4"/><circle cx="127.8" cy="443.6" r="2.4"/><circle cx="134.4" cy="443.7" r="2.4"/><circle cx="141.0" cy="443.8" r="2.4"/><circle cx="147.6" cy="443.9" r="2.4"/><circle cx="154.2" cy="443.9" r="2.4"/><circle cx="160.8" cy="444.0" r="2.4"/><circle cx="167.4" cy="444.1" r="2.4"/><circle cx="174.0" cy="444.2" r="2.4"/><circle cx="180.6" cy="444.3" r="2.4"/><circle cx="187.2" cy="444.4" r="2.4"/><circle cx="193.8" cy="444.5" r="2.4"/><circle cx="200.4" cy="444.6" r="2.4"/><circle cx="207.0" cy="444.7" r="2.4"/><circle cx="213.6" cy="444.8" r="2.4"/><circle cx="220.2" cy="444.9" r="2.4"/><circle cx="226.8" cy="445.0" r="2.4"/><circle cx="233.4" cy="445.1" r="2.4"/><circle cx="240.0" cy="445.2" r="2.4"/><circle cx="246.6" cy="445.3" r="2.4"/><circle cx="253.2" cy="445.4" r="2.4"/><circle cx="259.8" cy="445.6" r="2.4"/><circle cx="266.4" cy="445.8" r="2.4"/><circle cx="273.0" cy="446.0" r="2.4"/><circle cx="279.6" cy="446.4" r="2.4"/><circle cx="286.2" cy="446.8" r="2.4"/><circle cx="292.8" cy="447.2" r="2.4"/><circle cx="299.4" cy="447.8" r="2.4"/><circle cx="306.0" cy="448.6" r="2.4"/><circle cx="312.6" cy="449.7" r="2.4"/><circle cx="319.2" cy="451.4" r="2.4"/><circle cx="325.8" cy="453.8" r="2.4"/><circle cx="332.4" cy="457.1" r="2.4"/><circle cx="339.0" cy="461.6" r="2.4"/><circle cx="345.6" cy="468.8" r="2.4"/><circle cx="352.2" cy="480.0" r="2.4"/><circle cx="358.8" cy="494.6" r="2.4"/><circle cx="365.4" cy="512.1" r="2.4"/><circle cx="372.0" cy="534.5" r="2.4"/><circle cx="378.6" cy="567.2" r="2.4"/><circle cx="385.2" cy="631.2" r="2.4"/></g>
<path d="M89.7 438.6 L91.9 438.6 L97.9 438.7 L107.1 438.9 L118.8 439.1 L132.2 439.3 L146.6 439.6 L161.3 439.8 L175.5 440.1 L188.7 440.4 L200.0 440.6 L208.8 440.8 L217.7 441.0 L226.6 441.1 L235.5 441.3 L244.1 441.5 L252.5 441.7 L260.3 441.9 L267.6 442.1 L274.2 442.4 L280.0 442.6 L282.5 442.7 L284.9 442.8 L287.0 443.0 L289.0 443.1 L290.9 443.2 L292.7 443.3 L294.5 443.5 L296.3 443.6 L298.1 443.8 L300.0 444.0 L301.9 444.2 L303.9 444.4 L305.8 444.7 L307.7 444.9 L309.7 445.2 L311.6 445.5 L313.5 445.8 L315.3 446.1 L317.2 446.5 L319.0 446.9 L320.7 447.3 L322.3 447.7 L324.0 448.1 L325.6 448.6 L327.2 449.0 L328.8 449.5 L330.3 450.0 L331.8 450.6 L333.2 451.2 L334.6 451.8 L335.7 452.4 L336.8 452.9 L337.8 453.5 L338.8 454.1 L339.7 454.8 L340.7 455.5 L341.6 456.2 L342.5 456.9 L343.3 457.6 L344.2 458.4 L345.1 459.2 L345.9 460.1 L346.7 461.0 L347.5 461.9 L348.3 462.8 L349.0 463.8 L349.7 464.8 L350.5 465.8 L351.2 466.9 L351.9 468.0 L352.7 469.4 L353.5 470.8 L354.3 472.2 L355.1 473.7 L355.8 475.3 L356.6 476.9 L357.3 478.5 L358.0 480.1 L358.8 481.8 L359.5 483.4 L360.3 485.2 L361.1 487.1 L361.9 488.9 L362.7 490.9 L363.5 492.8 L364.2 494.7 L365.0 496.7 L365.7 498.6 L366.5 500.6 L367.2 502.6 L367.9 504.7 L368.7 506.7 L369.4 508.8 L370.1 510.9 L370.8 513.0 L371.5 515.2 L372.1 517.3 L372.8 519.4 L373.4 521.6 L374.0 523.7 L374.6 525.8 L375.1 527.9 L375.6 530.0 L376.1 532.1 L376.6 534.2 L377.0 536.3 L377.5 538.4 L377.9 540.6 L378.4 542.8 L378.8 545.0 L379.3 547.5 L379.7 550.1 L380.2 552.7 L380.6 555.3 L381.0 558.0 L381.4 560.7 L381.8 563.4 L382.2 566.2 L382.6 569.1 L383.0 572.0 L383.4 575.5 L383.9 579.2 L384.3 582.9 L384.7 586.7 L385.1 590.5 L385.5 594.4 L385.9 598.3 L386.3 602.2 L386.6 606.1 L387.0 610.0 L387.4 614.0 L387.7 618.1 L388.1 622.2 L388.4 626.3 L388.7 630.4 L389.0 634.5 L389.3 638.5 L389.6 642.5 L389.9 646.3 L390.2 650.0 L390.4 653.0 L390.6 655.9 L390.9 658.8 L391.1 661.6 L391.3 664.4 L391.5 667.2 L391.7 669.8 L391.9 672.3 L392.0 674.7 L392.2 677.0 L392.3 678.6 L392.5 680.3 L392.6 682.1 L392.7 683.8 L392.8 685.4 L393.0 686.9 L393.1 688.2 L393.1 689.1 L393.2 689.8 L393.2 690.0" fill="none" stroke="rgb(242,198,52)" stroke-width="1.45" stroke-linejoin="round"/>
<g fill="rgb(242,198,52)" stroke="rgb(242,198,52)" stroke-width="0.8"><circle cx="91.5" cy="438.6" r="2.7"/><circle cx="98.1" cy="438.7" r="2.7"/><circle cx="104.7" cy="438.9" r="2.7"/><circle cx="111.3" cy="439.0" r="2.7"/><circle cx="117.9" cy="439.1" r="2.7"/><circle cx="124.5" cy="439.2" r="2.7"/><circle cx="131.1" cy="439.3" r="2.7"/><circle cx="137.7" cy="439.4" r="2.7"/><circle cx="144.3" cy="439.5" r="2.7"/><circle cx="150.9" cy="439.7" r="2.7"/><circle cx="157.5" cy="439.8" r="2.7"/><circle cx="164.1" cy="439.9" r="2.7"/><circle cx="170.7" cy="440.0" r="2.7"/><circle cx="177.3" cy="440.1" r="2.7"/><circle cx="183.9" cy="440.3" r="2.7"/><circle cx="190.5" cy="440.4" r="2.7"/><circle cx="197.1" cy="440.5" r="2.7"/><circle cx="203.7" cy="440.7" r="2.7"/><circle cx="210.3" cy="440.8" r="2.7"/><circle cx="216.9" cy="440.9" r="2.7"/><circle cx="223.5" cy="441.1" r="2.7"/><circle cx="230.1" cy="441.2" r="2.7"/><circle cx="236.7" cy="441.4" r="2.7"/><circle cx="243.3" cy="441.5" r="2.7"/><circle cx="249.9" cy="441.7" r="2.7"/><circle cx="256.5" cy="441.8" r="2.7"/><circle cx="263.1" cy="442.0" r="2.7"/><circle cx="269.7" cy="442.2" r="2.7"/><circle cx="276.3" cy="442.4" r="2.7"/><circle cx="282.9" cy="442.7" r="2.7"/><circle cx="289.5" cy="443.1" r="2.7"/><circle cx="296.1" cy="443.6" r="2.7"/><circle cx="302.7" cy="444.3" r="2.7"/><circle cx="309.3" cy="445.1" r="2.7"/><circle cx="315.9" cy="446.2" r="2.7"/><circle cx="322.5" cy="447.7" r="2.7"/><circle cx="329.1" cy="449.6" r="2.7"/><circle cx="335.7" cy="452.4" r="2.7"/><circle cx="342.3" cy="456.7" r="2.7"/><circle cx="348.9" cy="463.7" r="2.7"/><circle cx="355.5" cy="474.6" r="2.7"/><circle cx="362.1" cy="489.4" r="2.7"/><circle cx="368.7" cy="506.8" r="2.7"/><circle cx="375.3" cy="528.7" r="2.7"/><circle cx="381.9" cy="563.9" r="2.7"/><circle cx="388.5" cy="627.8" r="2.7"/></g>
<path d="M89.7 432.4 L91.8 432.4 L97.7 432.5 L106.7 432.7 L118.2 432.9 L131.4 433.2 L145.7 433.5 L160.4 433.7 L174.8 434.0 L188.2 434.3 L200.0 434.6 L210.5 434.9 L221.3 435.1 L232.3 435.4 L243.2 435.7 L254.1 436.0 L264.6 436.3 L274.6 436.6 L283.9 436.9 L292.5 437.1 L300.0 437.4 L303.6 437.5 L306.9 437.6 L309.9 437.7 L312.8 437.8 L315.5 437.9 L318.1 438.0 L320.7 438.2 L323.3 438.3 L326.0 438.4 L328.8 438.6 L331.7 438.8 L334.7 439.0 L337.7 439.2 L340.8 439.4 L343.8 439.7 L346.7 439.9 L349.6 440.2 L352.4 440.5 L355.1 440.8 L357.6 441.1 L359.4 441.3 L361.1 441.6 L362.7 441.8 L364.3 442.0 L365.9 442.3 L367.4 442.6 L368.8 442.9 L370.3 443.2 L371.7 443.6 L373.0 444.0 L374.1 444.4 L375.2 444.8 L376.2 445.2 L377.2 445.7 L378.2 446.1 L379.1 446.6 L380.0 447.1 L380.9 447.7 L381.8 448.2 L382.6 448.8 L383.3 449.3 L383.9 449.8 L384.5 450.4 L385.1 450.9 L385.7 451.5 L386.3 452.0 L386.8 452.6 L387.3 453.3 L387.9 453.9 L388.4 454.6 L389.0 455.4 L389.6 456.3 L390.2 457.2 L390.8 458.1 L391.4 459.0 L391.9 460.0 L392.5 461.0 L393.0 462.1 L393.6 463.1 L394.1 464.2 L394.7 465.5 L395.3 466.9 L395.9 468.4 L396.5 469.8 L397.1 471.3 L397.7 472.9 L398.2 474.5 L398.8 476.1 L399.3 477.8 L399.9 479.5 L400.6 481.7 L401.3 484.0 L402.0 486.4 L402.7 488.8 L403.4 491.3 L404.1 493.8 L404.8 496.4 L405.4 499.1 L406.1 501.8 L406.8 504.5 L407.6 507.9 L408.5 511.3 L409.3 514.9 L410.2 518.5 L411.1 522.1 L411.9 525.9 L412.7 529.8 L413.5 533.7 L414.3 537.8 L415.0 542.0 L415.9 547.7 L416.7 553.7 L417.5 559.9 L418.3 566.4 L419.0 573.0 L419.7 579.6 L420.4 586.1 L421.1 592.5 L421.7 598.8 L422.3 604.7 L422.8 609.6 L423.3 614.4 L423.8 619.2 L424.2 623.9 L424.7 628.5 L425.1 633.1 L425.5 637.5 L425.9 641.8 L426.2 646.0 L426.6 650.0 L426.9 653.0 L427.1 656.0 L427.4 658.9 L427.6 661.8 L427.9 664.5 L428.1 667.2 L428.3 669.8 L428.5 672.3 L428.7 674.7 L428.9 677.0 L429.0 678.6 L429.1 680.3 L429.3 682.1 L429.4 683.8 L429.5 685.4 L429.6 686.9 L429.7 688.2 L429.7 689.1 L429.8 689.8 L429.8 690.0" fill="none" stroke="rgb(206,24,32)" stroke-width="1.45" stroke-linejoin="round"/>
<g fill="rgb(206,24,32)" stroke="rgb(206,24,32)" stroke-width="0.8"><circle cx="94.8" cy="432.5" r="2.7"/><circle cx="101.4" cy="432.6" r="2.7"/><circle cx="108.0" cy="432.7" r="2.7"/><circle cx="114.6" cy="432.9" r="2.7"/><circle cx="121.2" cy="433.0" r="2.7"/><circle cx="127.8" cy="433.1" r="2.7"/><circle cx="134.4" cy="433.2" r="2.7"/><circle cx="141.0" cy="433.4" r="2.7"/><circle cx="147.6" cy="433.5" r="2.7"/><circle cx="154.2" cy="433.6" r="2.7"/><circle cx="160.8" cy="433.8" r="2.7"/><circle cx="167.4" cy="433.9" r="2.7"/><circle cx="174.0" cy="434.0" r="2.7"/><circle cx="180.6" cy="434.2" r="2.7"/><circle cx="187.2" cy="434.3" r="2.7"/><circle cx="193.8" cy="434.5" r="2.7"/><circle cx="200.4" cy="434.6" r="2.7"/><circle cx="207.0" cy="434.8" r="2.7"/><circle cx="213.6" cy="434.9" r="2.7"/><circle cx="220.2" cy="435.1" r="2.7"/><circle cx="226.8" cy="435.3" r="2.7"/><circle cx="233.4" cy="435.4" r="2.7"/><circle cx="240.0" cy="435.6" r="2.7"/><circle cx="246.6" cy="435.8" r="2.7"/><circle cx="253.2" cy="436.0" r="2.7"/><circle cx="259.8" cy="436.2" r="2.7"/><circle cx="266.4" cy="436.4" r="2.7"/><circle cx="273.0" cy="436.5" r="2.7"/><circle cx="279.6" cy="436.7" r="2.7"/><circle cx="286.2" cy="436.9" r="2.7"/><circle cx="292.8" cy="437.2" r="2.7"/><circle cx="299.4" cy="437.4" r="2.7"/><circle cx="306.0" cy="437.6" r="2.7"/><circle cx="312.6" cy="437.8" r="2.7"/><circle cx="319.2" cy="438.1" r="2.7"/><circle cx="325.8" cy="438.4" r="2.7"/><circle cx="332.4" cy="438.8" r="2.7"/><circle cx="339.0" cy="439.3" r="2.7"/><circle cx="345.6" cy="439.8" r="2.7"/><circle cx="352.2" cy="440.5" r="2.7"/><circle cx="358.8" cy="441.3" r="2.7"/><circle cx="365.4" cy="442.2" r="2.7"/><circle cx="372.0" cy="443.7" r="2.7"/><circle cx="378.6" cy="446.4" r="2.7"/><circle cx="385.2" cy="451.0" r="2.7"/><circle cx="391.8" cy="459.8" r="2.7"/><circle cx="398.4" cy="475.0" r="2.7"/><circle cx="405.0" cy="497.4" r="2.7"/><circle cx="411.6" cy="524.6" r="2.7"/><circle cx="418.2" cy="565.6" r="2.7"/><circle cx="424.8" cy="630.1" r="2.7"/></g>
</g>
<path d="M89.75 690 V410.60 H453.70 V690" fill="none" stroke="#0a0a0a" stroke-width="3.1" stroke-linejoin="miter"/>
<line x1="84.2" y1="410.60" x2="89.8" y2="410.60" stroke="#0a0a0a" stroke-width="3"/>
<text class="b" font-size="19" x="50.6" y="416.1" textLength="28.0" lengthAdjust="spacingAndGlyphs">-24</text>
<line x1="86.3" y1="439.88" x2="89.8" y2="439.88" stroke="#0a0a0a" stroke-width="2.4"/>
<line x1="84.2" y1="469.15" x2="89.8" y2="469.15" stroke="#0a0a0a" stroke-width="3"/>
<text class="b" font-size="19" x="50.6" y="474.7" textLength="28.0" lengthAdjust="spacingAndGlyphs">-20</text>
<line x1="86.3" y1="498.43" x2="89.8" y2="498.43" stroke="#0a0a0a" stroke-width="2.4"/>
<line x1="84.2" y1="527.70" x2="89.8" y2="527.70" stroke="#0a0a0a" stroke-width="3"/>
<text class="b" font-size="19" x="50.8" y="533.2" textLength="27.8" lengthAdjust="spacingAndGlyphs">-16</text>
<line x1="86.3" y1="556.98" x2="89.8" y2="556.98" stroke="#0a0a0a" stroke-width="2.4"/>
<line x1="84.2" y1="586.25" x2="89.8" y2="586.25" stroke="#0a0a0a" stroke-width="3"/>
<text class="b" font-size="19" x="50.8" y="591.8" textLength="27.8" lengthAdjust="spacingAndGlyphs">-12</text>
<line x1="86.3" y1="615.52" x2="89.8" y2="615.52" stroke="#0a0a0a" stroke-width="2.4"/>
<line x1="84.2" y1="644.80" x2="89.8" y2="644.80" stroke="#0a0a0a" stroke-width="3"/>
<text class="b" font-size="19" x="61.4" y="650.3" textLength="17.2" lengthAdjust="spacingAndGlyphs">-8</text>
<line x1="86.3" y1="674.07" x2="89.8" y2="674.07" stroke="#0a0a0a" stroke-width="2.4"/>
<text class="b" font-size="25" text-anchor="end" transform="translate(41.6,433.6) rotate(-90) scale(1.015,1)">Current density (mA cm<tspan font-size="16" dy="-10.9" dx="-0.8">-2</tspan><tspan dy="10.9" dx="-0.8">)</tspan></text>
</g>
<g id="panel-letters" font-size="28.4">
<text x="54.8" y="37.3">a</text><text x="554.4" y="32.8">b</text><text x="19.9" y="390.5">c</text><text x="499.2" y="391.0">d</text>
</g>
<defs><clipPath id="cD"><rect x="583.2" y="410.6" width="364.3" height="300"/></clipPath></defs>
<g id="panel-d">
<g clip-path="url(#cD)">
<path d="M772.0 690.0 L772.3 689.7 L773.0 688.7 L774.1 687.3 L775.5 685.5 L777.2 683.4 L779.0 681.2 L780.9 679.0 L782.8 676.8 L784.6 674.9 L786.3 673.3 L787.7 672.1 L789.2 670.9 L790.6 669.9 L792.1 668.9 L793.6 667.9 L795.2 666.9 L796.7 665.9 L798.3 664.9 L799.9 663.7 L801.6 662.5 L803.9 660.7 L806.3 658.7 L808.8 656.7 L811.4 654.5 L814.0 652.3 L816.6 650.0 L819.2 647.8 L821.8 645.5 L824.4 643.2 L827.0 641.0 L829.5 638.8 L832.1 636.6 L834.6 634.3 L837.2 632.1 L839.7 629.9 L842.2 627.6 L844.8 625.4 L847.3 623.1 L849.9 620.9 L852.4 618.7 L854.9 616.5 L857.5 614.3 L860.0 612.1 L862.5 610.0 L865.1 607.8 L867.6 605.6 L870.2 603.5 L872.7 601.3 L875.2 599.2 L877.8 597.1 L880.4 595.0 L883.0 592.8 L885.6 590.6 L888.3 588.4 L890.9 586.3 L893.5 584.2 L896.1 582.1 L898.5 580.2 L900.9 578.4 L903.1 576.8 L904.5 575.8 L905.9 574.8 L907.2 573.9 L908.4 573.0 L909.6 572.1 L910.8 571.3 L912.0 570.6 L913.3 569.8 L914.5 569.2 L915.8 568.5 L917.0 567.9 L918.3 567.4 L919.6 566.9 L920.8 566.4 L922.1 565.9 L923.4 565.5 L924.7 565.1 L926.0 564.8 L927.2 564.4 L928.5 564.1 L929.7 563.8 L930.9 563.6 L932.0 563.4 L933.2 563.2 L934.4 563.0 L935.6 562.8 L936.7 562.7 L937.8 562.5 L938.9 562.4 L940.0 562.3" fill="none" stroke="rgb(62,86,102)" stroke-width="1.1"/>
<g fill="rgba(255,255,255,0.85)" stroke="rgb(62,86,102)" stroke-width="1.4"><circle cx="772.7" cy="689.1" r="3.3"/><circle cx="780.0" cy="680.1" r="3.3"/><circle cx="787.3" cy="672.4" r="3.3"/><circle cx="794.6" cy="667.3" r="3.3"/><circle cx="801.9" cy="662.3" r="3.3"/><circle cx="809.2" cy="656.3" r="3.3"/><circle cx="816.5" cy="650.1" r="3.3"/><circle cx="823.8" cy="643.8" r="3.3"/><circle cx="831.1" cy="637.4" r="3.3"/><circle cx="838.4" cy="631.0" r="3.3"/><circle cx="845.7" cy="624.6" r="3.3"/><circle cx="853.0" cy="618.2" r="3.3"/><circle cx="860.3" cy="611.9" r="3.3"/><circle cx="867.6" cy="605.7" r="3.3"/><circle cx="874.9" cy="599.5" r="3.3"/><circle cx="882.2" cy="593.5" r="3.3"/><circle cx="889.5" cy="587.5" r="3.3"/><circle cx="896.8" cy="581.6" r="3.3"/><circle cx="904.1" cy="576.1" r="3.3"/><circle cx="911.4" cy="571.0" r="3.3"/><circle cx="918.7" cy="567.2" r="3.3"/><circle cx="926.0" cy="564.8" r="3.3"/><circle cx="933.3" cy="563.1" r="3.3"/><circle cx="940.6" cy="562.2" r="3.3"/></g>
<path d="M726.0 690.0 L726.3 689.7 L727.1 688.9 L728.3 687.7 L729.8 686.1 L731.6 684.2 L733.6 682.2 L735.7 679.9 L737.9 677.7 L740.0 675.4 L741.9 673.3 L744.9 670.0 L748.1 666.3 L751.5 662.3 L755.0 658.1 L758.6 653.8 L762.3 649.4 L765.9 645.0 L769.5 640.7 L772.9 636.6 L776.2 632.7 L778.9 629.5 L781.5 626.3 L784.1 623.2 L786.6 620.1 L789.1 617.1 L791.6 614.1 L794.1 611.1 L796.6 608.2 L799.1 605.2 L801.6 602.2 L804.1 599.2 L806.6 596.3 L809.2 593.3 L811.7 590.4 L814.2 587.4 L816.8 584.5 L819.3 581.6 L821.9 578.7 L824.4 575.8 L827.0 573.0 L829.5 570.3 L832.1 567.5 L834.6 564.8 L837.2 562.1 L839.8 559.4 L842.4 556.8 L844.9 554.1 L847.5 551.5 L849.9 548.9 L852.4 546.3 L854.7 543.9 L856.9 541.5 L859.1 539.1 L861.4 536.7 L863.6 534.3 L865.7 532.0 L867.9 529.7 L870.0 527.4 L872.0 525.2 L874.0 523.1 L875.6 521.4 L877.1 519.8 L878.6 518.2 L880.1 516.7 L881.6 515.2 L883.0 513.7 L884.5 512.2 L885.9 510.7 L887.3 509.1 L888.8 507.6 L890.3 506.0 L891.7 504.5 L893.2 502.9 L894.7 501.3 L896.1 499.7 L897.6 498.2 L899.1 496.6 L900.5 495.0 L902.0 493.5 L903.5 492.0 L905.0 490.5 L906.5 489.0 L908.0 487.5 L909.6 485.9 L911.1 484.5 L912.7 483.0 L914.2 481.6 L915.6 480.3 L917.0 479.1 L918.3 478.0 L919.1 477.4 L919.9 476.8 L920.7 476.2 L921.4 475.7 L922.1 475.2 L922.8 474.7 L923.5 474.3 L924.2 473.8 L925.0 473.4 L925.7 472.9 L926.4 472.4 L927.2 471.9 L927.9 471.4 L928.6 471.0 L929.3 470.5 L930.1 470.0 L930.8 469.6 L931.6 469.1 L932.3 468.8 L933.1 468.4 L933.9 468.1 L934.7 467.8 L935.5 467.5 L936.3 467.3 L937.1 467.1 L938.0 466.9 L938.8 466.7 L939.6 466.5 L940.4 466.4" fill="none" stroke="rgb(214,198,104)" stroke-width="1.1"/>
<g fill="rgba(252,246,188,0.7)" stroke="rgb(214,198,104)" stroke-width="1.4"><circle cx="728.9" cy="687.0" r="3.3"/><circle cx="736.2" cy="679.5" r="3.3"/><circle cx="743.5" cy="671.5" r="3.3"/><circle cx="750.8" cy="663.1" r="3.3"/><circle cx="758.1" cy="654.4" r="3.3"/><circle cx="765.4" cy="645.7" r="3.3"/><circle cx="772.7" cy="636.9" r="3.3"/><circle cx="780.0" cy="628.1" r="3.3"/><circle cx="787.3" cy="619.3" r="3.3"/><circle cx="794.6" cy="610.5" r="3.3"/><circle cx="801.9" cy="601.8" r="3.3"/><circle cx="809.2" cy="593.3" r="3.3"/><circle cx="816.5" cy="584.8" r="3.3"/><circle cx="823.8" cy="576.5" r="3.3"/><circle cx="831.1" cy="568.6" r="3.3"/><circle cx="838.4" cy="560.9" r="3.3"/><circle cx="845.7" cy="553.3" r="3.3"/><circle cx="853.0" cy="545.7" r="3.3"/><circle cx="860.3" cy="537.8" r="3.3"/><circle cx="867.6" cy="530.0" r="3.3"/><circle cx="874.9" cy="522.1" r="3.3"/><circle cx="882.2" cy="514.5" r="3.3"/><circle cx="889.5" cy="506.9" r="3.3"/><circle cx="896.8" cy="499.0" r="3.3"/><circle cx="904.1" cy="491.4" r="3.3"/><circle cx="911.4" cy="484.2" r="3.3"/><circle cx="918.7" cy="477.7" r="3.3"/><circle cx="926.0" cy="472.7" r="3.3"/><circle cx="933.3" cy="468.3" r="3.3"/><circle cx="940.6" cy="466.3" r="3.3"/></g>
<path d="M716.0 690.0 L716.3 689.7 L717.2 688.8 L718.6 687.5 L720.3 685.8 L722.4 683.8 L724.5 681.6 L726.8 679.4 L729.0 677.2 L731.1 675.1 L733.0 673.3 L734.8 671.6 L736.5 669.9 L738.3 668.2 L740.0 666.5 L741.8 664.8 L743.5 663.1 L745.3 661.3 L747.1 659.5 L748.9 657.5 L750.8 655.5 L753.2 652.7 L755.7 649.8 L758.2 646.8 L760.8 643.6 L763.3 640.3 L765.9 637.0 L768.5 633.7 L771.1 630.4 L773.7 627.1 L776.2 623.8 L778.8 620.5 L781.3 617.2 L783.8 613.9 L786.4 610.6 L788.9 607.2 L791.4 603.9 L793.9 600.6 L796.5 597.3 L799.0 594.0 L801.6 590.8 L804.2 587.6 L806.8 584.5 L809.4 581.3 L812.1 578.1 L814.8 575.0 L817.4 571.9 L820.0 568.9 L822.4 565.9 L824.8 563.0 L827.0 560.3 L828.6 558.3 L830.1 556.4 L831.6 554.5 L833.0 552.6 L834.3 550.8 L835.7 549.1 L837.0 547.3 L838.3 545.6 L839.6 543.8 L840.9 542.0 L842.1 540.3 L843.3 538.6 L844.4 536.9 L845.6 535.3 L846.7 533.6 L847.8 531.9 L849.0 530.3 L850.1 528.6 L851.3 526.9 L852.6 525.3 L854.0 523.6 L855.4 521.9 L856.8 520.1 L858.3 518.4 L859.8 516.7 L861.3 515.0 L862.8 513.4 L864.3 511.7 L865.8 510.0 L867.3 508.3 L868.7 506.6 L870.1 505.0 L871.5 503.3 L872.9 501.7 L874.3 500.0 L875.7 498.4 L877.1 496.8 L878.5 495.2 L880.0 493.6 L881.4 492.0 L882.8 490.5 L884.3 489.0 L885.8 487.5 L887.3 486.0 L888.8 484.6 L890.3 483.1 L891.8 481.6 L893.3 480.2 L894.7 478.8 L896.2 477.3 L897.6 475.9 L899.1 474.4 L900.6 472.8 L902.0 471.3 L903.5 469.8 L904.9 468.4 L906.3 466.9 L907.7 465.6 L909.0 464.3 L910.2 463.2 L911.0 462.5 L911.8 461.8 L912.5 461.2 L913.3 460.6 L914.0 460.0 L914.7 459.5 L915.4 458.9 L916.1 458.4 L916.9 457.8 L917.6 457.3 L918.3 456.8 L919.1 456.2 L919.8 455.7 L920.5 455.1 L921.3 454.6 L922.0 454.1 L922.7 453.6 L923.5 453.1 L924.2 452.6 L925.0 452.2 L925.7 451.8 L926.4 451.5 L927.2 451.1 L927.9 450.8 L928.7 450.5 L929.4 450.3 L930.1 450.0 L930.9 449.7 L931.6 449.5 L932.4 449.2 L933.2 448.9 L933.9 448.7 L934.7 448.4 L935.5 448.2 L936.3 448.0 L937.1 447.8 L937.8 447.5 L938.6 447.4 L939.4 447.2 L940.2 447.0" fill="none" stroke="rgb(202,48,76)" stroke-width="1.1"/>
<g fill="rgba(255,214,222,0.7)" stroke="rgb(202,48,76)" stroke-width="1.4"><circle cx="721.6" cy="684.5" r="3.3"/><circle cx="728.9" cy="677.3" r="3.3"/><circle cx="736.2" cy="670.2" r="3.3"/><circle cx="743.5" cy="663.1" r="3.3"/><circle cx="750.8" cy="655.5" r="3.3"/><circle cx="758.1" cy="646.9" r="3.3"/><circle cx="765.4" cy="637.7" r="3.3"/><circle cx="772.7" cy="628.3" r="3.3"/><circle cx="780.0" cy="618.9" r="3.3"/><circle cx="787.3" cy="609.3" r="3.3"/><circle cx="794.6" cy="599.7" r="3.3"/><circle cx="801.9" cy="590.4" r="3.3"/><circle cx="809.2" cy="581.6" r="3.3"/><circle cx="816.5" cy="572.9" r="3.3"/><circle cx="823.8" cy="564.2" r="3.3"/><circle cx="831.1" cy="555.1" r="3.3"/><circle cx="838.4" cy="545.4" r="3.3"/><circle cx="845.7" cy="535.1" r="3.3"/><circle cx="853.0" cy="524.8" r="3.3"/><circle cx="860.3" cy="516.2" r="3.3"/><circle cx="867.6" cy="508.0" r="3.3"/><circle cx="874.9" cy="499.3" r="3.3"/><circle cx="882.2" cy="491.2" r="3.3"/><circle cx="889.5" cy="483.8" r="3.3"/><circle cx="896.8" cy="476.7" r="3.3"/><circle cx="904.1" cy="469.2" r="3.3"/><circle cx="911.4" cy="462.1" r="3.3"/><circle cx="918.7" cy="456.5" r="3.3"/><circle cx="926.0" cy="451.7" r="3.3"/><circle cx="933.3" cy="448.9" r="3.3"/><circle cx="940.6" cy="446.9" r="3.3"/></g>
<path d="M616.0 690.0 L616.1 689.3 L616.3 687.5 L616.7 685.0 L617.2 682.1 L617.7 679.3 L618.4 677.0 L619.1 675.3 L619.8 673.6 L620.7 672.0 L621.6 670.4 L622.5 668.9 L623.5 667.4 L624.4 665.9 L625.4 664.4 L626.4 662.9 L627.5 661.6 L628.5 660.3 L629.6 659.3 L630.4 658.7 L631.2 658.1 L632.1 657.6 L632.9 657.2 L633.7 656.9 L634.6 656.7 L635.4 656.6 L636.3 656.7 L637.1 656.9 L638.0 657.1 L638.8 657.1 L639.7 657.0 L640.9 656.5 L642.0 655.7 L643.2 654.8 L644.4 653.6 L645.6 652.4 L646.7 651.2 L648.1 649.5 L649.5 647.6 L650.9 645.6 L652.2 643.5 L653.5 641.3 L654.8 639.1 L656.2 636.5 L657.6 633.9 L658.9 631.1 L660.2 628.3 L661.5 625.6 L662.9 622.9 L664.2 620.5 L665.5 618.0 L666.8 615.6 L668.1 613.3 L669.5 611.0 L671.0 608.8 L672.5 606.8 L674.1 604.8 L675.8 602.9 L677.5 601.0 L679.3 599.3 L681.1 597.6 L683.0 596.1 L685.1 594.6 L687.2 593.2 L689.3 591.9 L691.4 590.7 L693.3 589.6 L694.7 588.8 L696.0 588.2 L697.2 587.5 L698.5 586.9 L699.7 586.4 L701.0 585.8 L702.4 585.2 L703.7 584.6 L705.1 584.1 L706.5 583.5 L708.0 583.0 L709.4 582.5 L711.0 582.0 L712.6 581.4 L714.2 580.9 L715.9 580.4 L717.5 579.9 L719.2 579.4 L721.0 578.9 L722.8 578.3 L724.6 577.8 L726.4 577.2 L728.2 576.7 L730.0 576.2 L731.7 575.7 L733.3 575.3 L735.0 574.8 L736.6 574.4 L738.3 573.9 L740.0 573.4 L741.8 572.8 L743.6 572.2 L745.5 571.6 L747.3 571.0 L749.2 570.4 L751.0 569.8 L752.8 569.2 L754.6 568.6 L756.4 568.0 L758.3 567.4 L760.1 566.8 L762.0 566.2 L764.1 565.5 L766.2 564.8 L768.4 564.0 L770.6 563.3 L772.8 562.6 L775.0 562.0 L777.2 561.4 L779.4 560.9 L781.7 560.3 L783.9 559.9 L786.1 559.5 L788.3 559.1 L790.3 558.8 L792.3 558.7 L794.2 558.5 L796.2 558.4 L798.1 558.3 L800.0 558.2 L801.8 558.1 L803.5 558.0 L805.2 558.0 L806.9 557.9 L808.6 557.7 L810.2 557.4 L811.7 557.0 L813.2 556.5 L814.7 555.9 L816.1 555.2 L817.6 554.5 L819.0 553.8 L820.5 553.0 L822.0 552.2 L823.5 551.4 L824.9 550.5 L826.4 549.6 L827.8 548.6 L829.2 547.6 L830.6 546.4 L832.0 545.3 L833.3 544.1 L834.7 543.0 L836.0 542.0 L837.2 541.1 L838.5 540.2 L839.7 539.3 L840.9 538.5 L842.1 537.8 L843.2 537.2 L844.0 536.8 L844.9 536.5 L845.7 536.2 L846.5 535.9 L847.2 535.7 L848.0 535.6 L848.7 535.5 L849.3 535.5 L850.0 535.5 L850.6 535.5 L851.3 535.6 L851.9 535.8 L852.6 536.1 L853.3 536.5 L854.0 537.0 L854.6 537.5 L855.3 538.1 L856.0 538.6 L856.8 539.2 L857.6 539.8 L858.4 540.4 L859.2 541.1 L859.9 541.7 L860.7 542.4 L861.4 543.1 L862.1 543.9 L862.8 544.6 L863.5 545.4 L864.2 546.0 L865.0 546.6 L865.7 547.1 L866.5 547.5 L867.3 548.0 L868.1 548.3 L868.9 548.4 L869.5 548.4 L870.0 548.1 L870.5 547.6 L870.9 547.0 L871.2 546.3 L871.6 545.6 L872.0 545.0 L872.3 544.5 L872.7 544.0 L873.0 543.6 L873.3 543.2 L873.6 542.9 L873.9 542.8 L874.3 543.0 L874.6 543.5 L875.0 544.1 L875.3 544.9 L875.7 545.7 L876.0 546.5 L876.4 547.4 L876.8 548.4 L877.1 549.4 L877.5 550.5 L877.9 551.6 L878.3 552.6 L878.8 553.8 L879.4 555.0 L880.0 556.2 L880.6 557.3 L881.3 558.5 L882.0 559.5 L882.7 560.4 L883.5 561.2 L884.4 562.0 L885.2 562.8 L886.2 563.5 L887.1 564.2 L888.2 564.9 L889.3 565.5 L890.4 566.0 L891.6 566.5 L892.8 567.1 L894.0 567.6 L895.4 568.2 L896.8 568.7 L898.3 569.3 L899.7 569.8 L901.1 570.5 L902.4 571.2 L903.5 571.9 L904.5 572.7 L905.4 573.6 L906.3 574.5 L907.1 575.4 L908.0 576.5 L909.0 577.9 L910.0 579.4 L910.9 581.1 L911.8 582.8 L912.6 584.5 L913.4 586.3 L914.1 588.3 L914.8 590.3 L915.4 592.4 L916.0 594.5 L916.5 596.7 L917.0 599.0 L917.6 601.8 L918.1 604.7 L918.6 607.7 L919.0 610.7 L919.5 613.8 L920.0 617.0 L920.6 620.7 L921.1 624.5 L921.7 628.4 L922.3 632.3 L922.8 636.2 L923.4 640.0 L923.9 643.6 L924.5 647.2 L925.0 650.7 L925.6 654.2 L926.1 657.7 L926.6 661.0 L927.0 663.8 L927.4 666.6 L927.8 669.2 L928.1 671.9 L928.5 674.5 L928.8 677.0 L929.1 679.5 L929.5 682.4 L929.8 685.2 L930.1 687.6 L930.3 689.4 L930.4 690.0" fill="none" stroke="rgb(44,96,148)" stroke-width="3.3" stroke-linejoin="round" stroke-linecap="round"/>
<path d="M600.0 690.0 L600.1 689.4 L600.4 687.7 L600.8 685.4 L601.3 682.6 L601.7 679.7 L602.2 677.0 L602.8 673.5 L603.4 669.7 L604.1 665.7 L604.8 661.6 L605.5 657.4 L606.3 653.3 L607.2 648.7 L608.1 644.0 L609.1 639.3 L610.2 634.5 L611.3 629.7 L612.4 625.0 L613.6 620.2 L614.9 615.5 L616.3 610.7 L617.7 606.0 L619.1 601.3 L620.5 596.6 L621.8 592.1 L623.2 587.6 L624.5 583.1 L625.9 578.7 L627.2 574.4 L628.5 570.3 L629.6 567.0 L630.6 563.9 L631.6 560.9 L632.6 557.9 L633.6 555.0 L634.6 552.1 L635.5 549.5 L636.3 547.0 L637.2 544.5 L638.0 542.1 L638.8 539.6 L639.7 537.0 L640.6 534.2 L641.6 531.3 L642.6 528.4 L643.5 525.5 L644.5 522.4 L645.4 519.2 L646.5 515.1 L647.6 510.7 L648.7 506.2 L649.8 501.6 L650.9 497.0 L652.0 492.6 L653.1 488.4 L654.2 484.2 L655.3 480.1 L656.4 476.0 L657.5 472.0 L658.7 468.2 L659.7 465.0 L660.8 462.0 L661.8 459.0 L662.9 456.1 L664.1 453.2 L665.3 450.5 L666.5 448.1 L667.6 445.7 L668.9 443.4 L670.2 441.2 L671.6 439.1 L673.1 437.2 L674.6 435.6 L676.3 434.1 L678.0 432.8 L679.7 431.5 L681.5 430.4 L683.1 429.4 L684.3 428.8 L685.5 428.2 L686.6 427.7 L687.7 427.3 L688.9 426.9 L690.0 426.6 L691.1 426.3 L692.2 426.1 L693.2 425.9 L694.3 425.7 L695.4 425.6 L696.4 425.6 L697.4 425.6 L698.3 425.7 L699.2 425.8 L700.2 426.0 L701.1 426.2 L702.0 426.4 L702.9 426.6 L703.8 426.9 L704.7 427.1 L705.6 427.4 L706.5 427.8 L707.5 428.3 L709.2 429.3 L711.0 430.6 L712.9 432.0 L714.8 433.5 L716.7 434.9 L718.5 436.0 L719.8 436.7 L721.1 437.4 L722.3 438.0 L723.5 438.5 L724.7 439.1 L726.0 439.6 L727.3 440.1 L728.6 440.7 L730.0 441.2 L731.3 441.7 L732.7 442.2 L734.0 442.7 L735.3 443.2 L736.7 443.8 L738.0 444.3 L739.3 444.8 L740.7 445.3 L742.0 445.8 L743.3 446.2 L744.7 446.7 L746.0 447.1 L747.3 447.5 L748.7 447.9 L750.0 448.2 L751.3 448.5 L752.6 448.7 L754.0 449.0 L755.3 449.2 L756.6 449.4 L758.0 449.6 L759.5 449.8 L761.0 450.0 L762.5 450.2 L764.0 450.4 L765.5 450.6 L767.0 450.8 L768.4 451.0 L769.7 451.3 L771.1 451.6 L772.4 451.8 L773.8 452.1 L775.1 452.4 L776.4 452.7 L777.7 452.9 L779.0 453.1 L780.3 453.4 L781.7 453.7 L783.0 454.0 L784.5 454.5 L786.0 455.0 L787.5 455.6 L789.0 456.1 L790.5 456.7 L792.0 457.2 L793.4 457.6 L794.7 458.1 L796.1 458.5 L797.4 458.8 L798.7 459.1 L800.0 459.4 L801.0 459.6 L802.0 459.8 L803.0 459.9 L803.9 460.0 L804.8 460.0 L805.8 459.9 L806.8 459.7 L807.9 459.3 L808.9 458.9 L810.0 458.4 L811.0 457.8 L812.0 457.2 L813.0 456.5 L814.1 455.7 L815.1 454.9 L816.0 454.1 L817.0 453.2 L818.0 452.4 L818.9 451.6 L819.8 450.9 L820.7 450.1 L821.6 449.4 L822.5 448.7 L823.4 448.0 L824.3 447.3 L825.2 446.7 L826.2 446.0 L827.1 445.4 L828.0 444.9 L829.0 444.4 L829.9 444.0 L830.8 443.7 L831.7 443.3 L832.6 443.1 L833.5 442.9 L834.4 442.8 L835.2 442.8 L836.0 442.8 L836.8 442.9 L837.5 443.0 L838.3 443.2 L839.0 443.4 L839.7 443.7 L840.5 444.1 L841.2 444.5 L841.9 445.0 L842.5 445.6 L843.2 446.2 L844.0 447.1 L844.8 448.2 L845.6 449.3 L846.4 450.5 L847.2 451.8 L848.0 453.0 L849.1 454.5 L850.2 456.1 L851.4 457.8 L852.5 459.4 L853.7 461.0 L854.8 462.5 L855.7 463.7 L856.6 464.9 L857.4 466.0 L858.3 467.1 L859.1 468.2 L860.0 469.3 L860.9 470.4 L861.7 471.5 L862.6 472.5 L863.4 473.6 L864.3 474.7 L865.1 475.8 L865.9 476.9 L866.8 478.1 L867.6 479.3 L868.4 480.4 L869.2 481.5 L870.0 482.6 L870.6 483.5 L871.2 484.3 L871.7 485.2 L872.3 486.0 L872.8 486.7 L873.4 487.2 L873.8 487.5 L874.1 487.7 L874.5 487.9 L874.8 488.1 L875.2 488.2 L875.6 488.2 L876.0 488.1 L876.5 487.9 L877.0 487.6 L877.5 487.4 L877.9 487.1 L878.4 487.0 L878.8 487.0 L879.3 487.1 L879.7 487.2 L880.1 487.3 L880.6 487.4 L881.0 487.6 L881.5 487.8 L882.0 488.1 L882.5 488.3 L883.1 488.6 L883.7 488.9 L884.3 489.1 L885.4 489.4 L886.6 489.7 L888.0 489.9 L889.3 490.1 L890.7 490.4 L892.0 490.6 L893.2 490.8 L894.4 491.1 L895.6 491.3 L896.8 491.5 L897.9 491.8 L899.0 492.0 L899.9 492.2 L900.8 492.4 L901.7 492.6 L902.5 492.8 L903.3 493.1 L904.0 493.4 L904.6 493.7 L905.1 494.1 L905.6 494.5 L906.1 494.9 L906.5 495.4 L907.0 496.0 L907.6 496.9 L908.2 498.0 L908.8 499.2 L909.4 500.4 L910.0 501.7 L910.5 503.0 L911.1 504.5 L911.7 506.0 L912.2 507.6 L912.8 509.2 L913.3 511.0 L913.9 512.8 L914.7 515.4 L915.4 518.2 L916.2 521.2 L916.9 524.3 L917.6 527.6 L918.3 531.0 L919.1 536.0 L919.8 541.5 L920.4 547.3 L921.0 553.1 L921.6 558.9 L922.2 564.4 L922.8 569.2 L923.4 573.8 L923.9 578.4 L924.5 582.9 L925.0 587.4 L925.6 592.0 L926.2 596.7 L926.7 601.3 L927.2 606.0 L927.8 610.7 L928.3 615.3 L928.8 620.0 L929.3 624.7 L929.8 629.3 L930.2 634.0 L930.7 638.6 L931.1 643.3 L931.5 648.0 L931.9 652.9 L932.3 658.1 L932.7 663.2 L933.1 668.2 L933.5 672.8 L933.8 677.0 L934.0 679.8 L934.2 682.7 L934.5 685.4 L934.6 687.8 L934.8 689.4 L934.8 690.0" fill="none" stroke="rgb(206,24,32)" stroke-width="3.0" stroke-linejoin="round" stroke-linecap="round"/>
<path d="M593.8 690.0 L593.9 689.4 L594.0 687.8 L594.3 685.5 L594.6 682.8 L594.9 679.8 L595.2 677.0 L595.7 672.0 L596.4 666.3 L597.1 660.1 L597.8 653.7 L598.5 647.2 L599.2 641.1 L599.9 635.3 L600.5 629.5 L601.2 623.8 L601.8 618.1 L602.6 612.4 L603.3 606.7 L604.1 601.0 L604.9 595.2 L605.8 589.3 L606.6 583.7 L607.5 578.7 L608.3 574.4 L608.8 572.4 L609.2 570.6 L609.7 569.0 L610.1 567.5 L610.5 566.1 L611.0 564.6 L611.4 563.3 L611.8 562.0 L612.1 560.7 L612.5 559.5 L612.9 558.3 L613.4 557.2 L613.9 556.2 L614.3 555.3 L614.8 554.3 L615.4 553.5 L615.9 552.7 L616.5 552.0 L616.9 551.6 L617.4 551.2 L617.9 550.9 L618.3 550.6 L618.9 550.3 L619.4 550.1 L620.1 549.9 L620.8 549.7 L621.6 549.5 L622.4 549.4 L623.2 549.3 L624.0 549.2 L624.8 549.1 L625.5 549.0 L626.3 549.0 L627.1 549.0 L627.8 549.0 L628.5 549.1 L629.1 549.3 L629.7 549.5 L630.3 549.7 L630.9 550.0 L631.4 550.3 L632.0 550.6 L632.6 550.9 L633.1 551.3 L633.7 551.6 L634.3 552.0 L634.9 552.4 L635.5 552.8 L636.4 553.4 L637.4 554.1 L638.4 554.7 L639.4 555.3 L640.4 555.8 L641.4 556.0 L642.2 556.0 L642.9 555.8 L643.6 555.5 L644.4 555.1 L645.0 554.7 L645.7 554.2 L646.4 553.5 L647.1 552.7 L647.7 551.8 L648.3 550.9 L648.9 549.9 L649.5 549.0 L650.1 548.1 L650.7 547.1 L651.3 546.1 L651.9 545.1 L652.5 544.1 L653.0 543.0 L653.6 541.6 L654.2 540.1 L654.7 538.6 L655.2 537.0 L655.8 535.3 L656.5 533.5 L657.7 530.5 L659.0 527.1 L660.5 523.4 L662.0 519.7 L663.7 516.0 L665.3 512.5 L667.0 509.1 L668.8 505.6 L670.6 502.2 L672.5 498.8 L674.4 495.6 L676.4 492.6 L678.1 490.1 L679.9 487.8 L681.7 485.6 L683.6 483.4 L685.5 481.3 L687.5 479.3 L689.6 477.3 L691.7 475.2 L693.9 473.2 L696.2 471.4 L698.5 469.7 L700.8 468.2 L702.9 467.1 L705.1 466.1 L707.3 465.2 L709.6 464.5 L711.8 463.8 L714.1 463.3 L716.3 462.9 L718.5 462.5 L720.7 462.3 L723.0 462.2 L725.2 462.1 L727.4 462.2 L729.7 462.4 L731.9 462.8 L734.2 463.3 L736.4 463.9 L738.6 464.4 L740.7 464.9 L742.4 465.3 L744.0 465.6 L745.6 466.0 L747.1 466.3 L748.6 466.7 L750.0 467.1 L751.1 467.4 L752.1 467.8 L753.1 468.1 L754.1 468.4 L755.2 468.8 L756.3 469.2 L757.8 469.7 L759.4 470.3 L761.1 470.9 L762.8 471.6 L764.6 472.2 L766.3 472.8 L768.2 473.4 L770.2 474.1 L772.1 474.8 L774.1 475.4 L776.1 476.0 L778.0 476.6 L779.7 477.1 L781.5 477.6 L783.2 478.1 L784.9 478.5 L786.5 478.9 L788.0 479.2 L789.0 479.4 L789.9 479.6 L790.8 479.7 L791.7 479.8 L792.6 479.8 L793.5 479.8 L794.5 479.7 L795.6 479.5 L796.6 479.3 L797.7 479.0 L798.8 478.6 L800.0 478.2 L801.6 477.6 L803.3 476.8 L805.1 475.9 L806.9 475.0 L808.6 474.2 L810.2 473.5 L811.4 473.0 L812.6 472.6 L813.7 472.2 L814.8 471.8 L815.9 471.5 L817.0 471.2 L818.1 470.9 L819.2 470.6 L820.3 470.4 L821.4 470.2 L822.4 470.1 L823.4 470.2 L824.2 470.4 L825.0 470.7 L825.8 471.1 L826.5 471.5 L827.2 472.0 L828.0 472.6 L829.0 473.4 L830.1 474.4 L831.1 475.4 L832.2 476.5 L833.3 477.7 L834.4 478.8 L835.6 480.0 L836.9 481.3 L838.2 482.6 L839.4 483.9 L840.7 485.2 L842.0 486.5 L843.3 487.8 L844.6 489.1 L845.9 490.4 L847.2 491.7 L848.5 492.9 L849.7 494.1 L850.8 495.1 L851.8 496.2 L852.8 497.2 L853.8 498.1 L854.9 499.0 L856.0 499.8 L857.1 500.5 L858.2 501.1 L859.4 501.7 L860.5 502.2 L861.7 502.7 L862.9 503.0 L864.1 503.2 L865.3 503.4 L866.5 503.4 L867.7 503.4 L868.8 503.4 L870.0 503.4 L871.0 503.4 L872.0 503.4 L873.0 503.3 L874.0 503.3 L875.0 503.2 L876.0 503.2 L877.0 503.2 L878.0 503.2 L879.0 503.2 L880.0 503.2 L881.0 503.2 L882.0 503.2 L883.0 503.2 L884.0 503.3 L885.1 503.4 L886.0 503.5 L886.9 503.3 L887.6 503.0 L888.1 502.4 L888.5 501.5 L888.7 500.5 L888.9 499.3 L889.0 498.1 L889.2 497.0 L889.4 495.5 L889.6 493.9 L889.7 492.2 L889.8 490.6 L890.0 489.2 L890.2 488.0 L890.4 487.5 L890.5 487.0 L890.6 486.6 L890.8 486.2 L891.1 485.9 L891.4 485.6 L892.0 485.4 L892.6 485.3 L893.4 485.3 L894.2 485.3 L895.1 485.4 L896.0 485.4 L897.3 485.4 L898.8 485.4 L900.4 485.4 L902.0 485.4 L903.5 485.4 L905.0 485.4 L906.3 485.4 L907.5 485.4 L908.8 485.4 L910.0 485.4 L911.0 485.4 L912.0 485.5 L912.5 485.6 L913.0 485.6 L913.5 485.7 L913.9 485.8 L914.2 486.0 L914.6 486.2 L914.9 486.5 L915.2 486.9 L915.5 487.3 L915.7 487.8 L916.0 488.4 L916.2 489.0 L916.6 490.4 L916.9 492.1 L917.2 494.0 L917.5 496.0 L917.7 498.0 L918.0 500.0 L918.3 502.0 L918.6 504.1 L918.9 506.1 L919.1 508.3 L919.4 510.5 L919.8 512.8 L920.3 516.0 L921.0 519.3 L921.6 522.8 L922.3 526.4 L922.9 530.2 L923.5 534.0 L924.1 538.7 L924.6 543.7 L925.1 548.9 L925.6 554.1 L926.1 559.3 L926.6 564.4 L927.1 569.3 L927.7 574.3 L928.2 579.2 L928.7 584.1 L929.3 589.0 L929.8 594.0 L930.4 599.3 L931.0 604.6 L931.6 610.0 L932.1 615.4 L932.7 620.7 L933.2 625.8 L933.6 630.3 L934.0 634.7 L934.4 639.1 L934.7 643.4 L935.1 647.7 L935.4 652.0 L935.7 656.3 L936.1 660.7 L936.4 665.0 L936.7 669.3 L937.0 673.3 L937.3 677.0 L937.5 679.7 L937.7 682.6 L937.9 685.4 L938.0 687.7 L938.2 689.4 L938.2 690.0" fill="none" stroke="rgb(242,198,52)" stroke-width="4.0" stroke-linejoin="round" stroke-linecap="round"/>
</g>
<path d="M583.20 690 V410.60 H947.50 V690" fill="none" stroke="#0a0a0a" stroke-width="3.1"/>
<line x1="577.4" y1="410.60" x2="583.2" y2="410.60" stroke="#0a0a0a" stroke-width="3"/>
<text class="b" font-size="19" text-anchor="end" x="571.6" y="415.9">100</text>
<line x1="577.4" y1="480.65" x2="583.2" y2="480.65" stroke="#0a0a0a" stroke-width="3"/>
<text class="b" font-size="19" text-anchor="end" x="571.6" y="486.0">80</text>
<line x1="577.4" y1="550.70" x2="583.2" y2="550.70" stroke="#0a0a0a" stroke-width="3"/>
<text class="b" font-size="19" text-anchor="end" x="571.6" y="556.0">60</text>
<line x1="577.4" y1="620.75" x2="583.2" y2="620.75" stroke="#0a0a0a" stroke-width="3"/>
<text class="b" font-size="19" text-anchor="end" x="571.6" y="626.0">40</text>
<line x1="947.5" y1="410.60" x2="953.5" y2="410.60" stroke="#0a0a0a" stroke-width="3"/>
<text class="b" font-size="19" x="956.8" y="416.0" textLength="22.2" lengthAdjust="spacingAndGlyphs">24</text>
<line x1="947.5" y1="468.90" x2="953.5" y2="468.90" stroke="#0a0a0a" stroke-width="3"/>
<text class="b" font-size="19" x="956.8" y="474.3" textLength="21.4" lengthAdjust="spacingAndGlyphs">20</text>
<line x1="947.5" y1="527.20" x2="953.5" y2="527.20" stroke="#0a0a0a" stroke-width="3"/>
<text class="b" font-size="19" x="956.8" y="532.6" textLength="21.4" lengthAdjust="spacingAndGlyphs">16</text>
<line x1="947.5" y1="585.50" x2="953.5" y2="585.50" stroke="#0a0a0a" stroke-width="3"/>
<text class="b" font-size="19" x="956.8" y="590.9" textLength="21.4" lengthAdjust="spacingAndGlyphs">12</text>
<line x1="947.5" y1="643.80" x2="953.5" y2="643.80" stroke="#0a0a0a" stroke-width="3"/>
<text class="b" font-size="19" x="956.8" y="649.2" textLength="10.8" lengthAdjust="spacingAndGlyphs">8</text>
<text class="b" font-size="25.1" text-anchor="end" transform="translate(534.3,536.0) rotate(-90)">EQE (%)</text>
<text class="b" font-size="25" text-anchor="end" transform="translate(1009.5,440.6) rotate(-90) scale(0.995,1)">Integrated Jsc (mA cm<tspan font-size="16" dy="-10.9">-2</tspan><tspan dy="10.9">)</tspan></text>
</g>
</svg>
</body></html>
